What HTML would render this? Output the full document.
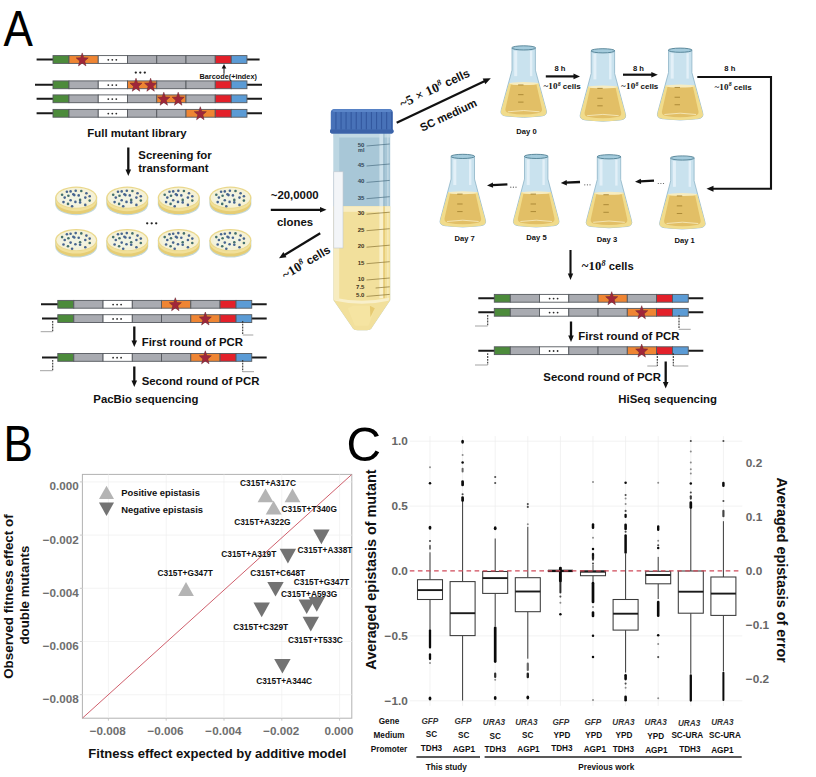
<!DOCTYPE html>
<html><head><meta charset="utf-8"><title>Figure</title>
<style>
html,body{margin:0;padding:0;background:#fff;}
body{width:816px;height:777px;overflow:hidden;font-family:"Liberation Sans",sans-serif;}
svg{display:block}
svg text{font-family:"Liberation Sans",sans-serif;}
</style></head>
<body>
<svg width="816" height="777" viewBox="0 0 816 777">
<rect width="816" height="777" fill="#ffffff"/>
<text transform="translate(3.6 46.3) scale(0.882 1)" font-size="50" fill="#000">A</text>
<line x1="36.6" y1="59.5" x2="259.6" y2="59.5" stroke="#1a1a1a" stroke-width="2.0"/>
<rect x="53.00" y="55.60" width="16.00" height="7.8" fill="#4c8b3b" stroke="#55595e" stroke-width="0.9"/>
<rect x="69.00" y="55.60" width="29.25" height="7.8" fill="#ef8533" stroke="#55595e" stroke-width="0.9"/>
<rect x="98.25" y="55.60" width="29.25" height="7.8" fill="#ffffff" stroke="#55595e" stroke-width="0.9"/>
<circle cx="108.3" cy="59.8" r="0.9" fill="#2a2a2a"/>
<circle cx="112.3" cy="59.8" r="0.9" fill="#2a2a2a"/>
<circle cx="116.3" cy="59.8" r="0.9" fill="#2a2a2a"/>
<rect x="127.50" y="55.60" width="29.25" height="7.8" fill="#a9abb1" stroke="#55595e" stroke-width="0.9"/>
<rect x="156.75" y="55.60" width="29.25" height="7.8" fill="#a9abb1" stroke="#55595e" stroke-width="0.9"/>
<rect x="186.00" y="55.60" width="29.25" height="7.8" fill="#a9abb1" stroke="#55595e" stroke-width="0.9"/>
<rect x="215.25" y="55.60" width="16.00" height="7.8" fill="#e3202a" stroke="#55595e" stroke-width="0.9"/>
<rect x="231.25" y="55.60" width="15.70" height="7.8" fill="#5b9bd5" stroke="#55595e" stroke-width="0.9"/>
<polygon points="82.20,52.90 83.76,57.65 88.23,57.88 84.73,61.03 85.92,65.92 82.20,63.12 78.48,65.92 79.67,61.03 76.17,57.88 80.64,57.65" fill="#a0263a" stroke="#6d2a30" stroke-width="0.5"/>
<line x1="35.0" y1="84.8" x2="262.0" y2="84.8" stroke="#1a1a1a" stroke-width="2.0"/>
<rect x="53.00" y="80.90" width="16.00" height="7.8" fill="#4c8b3b" stroke="#55595e" stroke-width="0.9"/>
<rect x="69.00" y="80.90" width="29.25" height="7.8" fill="#a9abb1" stroke="#55595e" stroke-width="0.9"/>
<rect x="98.25" y="80.90" width="29.25" height="7.8" fill="#ffffff" stroke="#55595e" stroke-width="0.9"/>
<circle cx="108.3" cy="85.1" r="0.9" fill="#2a2a2a"/>
<circle cx="112.3" cy="85.1" r="0.9" fill="#2a2a2a"/>
<circle cx="116.3" cy="85.1" r="0.9" fill="#2a2a2a"/>
<rect x="127.50" y="80.90" width="29.25" height="7.8" fill="#ef8533" stroke="#55595e" stroke-width="0.9"/>
<rect x="156.75" y="80.90" width="29.25" height="7.8" fill="#a9abb1" stroke="#55595e" stroke-width="0.9"/>
<rect x="186.00" y="80.90" width="29.25" height="7.8" fill="#a9abb1" stroke="#55595e" stroke-width="0.9"/>
<rect x="215.25" y="80.90" width="16.00" height="7.8" fill="#e3202a" stroke="#55595e" stroke-width="0.9"/>
<rect x="231.25" y="80.90" width="15.70" height="7.8" fill="#5b9bd5" stroke="#55595e" stroke-width="0.9"/>
<polygon points="136.00,78.20 137.56,82.95 142.03,83.18 138.53,86.33 139.72,91.22 136.00,88.42 132.28,91.22 133.47,86.33 129.97,83.18 134.44,82.95" fill="#a0263a" stroke="#6d2a30" stroke-width="0.5"/>
<polygon points="150.60,78.20 152.16,82.95 156.63,83.18 153.13,86.33 154.32,91.22 150.60,88.42 146.88,91.22 148.07,86.33 144.57,83.18 149.04,82.95" fill="#a0263a" stroke="#6d2a30" stroke-width="0.5"/>
<line x1="36.6" y1="98.8" x2="262.0" y2="98.8" stroke="#1a1a1a" stroke-width="2.0"/>
<rect x="53.00" y="94.90" width="16.00" height="7.8" fill="#4c8b3b" stroke="#55595e" stroke-width="0.9"/>
<rect x="69.00" y="94.90" width="29.25" height="7.8" fill="#a9abb1" stroke="#55595e" stroke-width="0.9"/>
<rect x="98.25" y="94.90" width="29.25" height="7.8" fill="#ffffff" stroke="#55595e" stroke-width="0.9"/>
<circle cx="108.3" cy="99.1" r="0.9" fill="#2a2a2a"/>
<circle cx="112.3" cy="99.1" r="0.9" fill="#2a2a2a"/>
<circle cx="116.3" cy="99.1" r="0.9" fill="#2a2a2a"/>
<rect x="127.50" y="94.90" width="29.25" height="7.8" fill="#a9abb1" stroke="#55595e" stroke-width="0.9"/>
<rect x="156.75" y="94.90" width="29.25" height="7.8" fill="#ef8533" stroke="#55595e" stroke-width="0.9"/>
<rect x="186.00" y="94.90" width="29.25" height="7.8" fill="#a9abb1" stroke="#55595e" stroke-width="0.9"/>
<rect x="215.25" y="94.90" width="16.00" height="7.8" fill="#e3202a" stroke="#55595e" stroke-width="0.9"/>
<rect x="231.25" y="94.90" width="15.70" height="7.8" fill="#5b9bd5" stroke="#55595e" stroke-width="0.9"/>
<polygon points="163.80,92.20 165.36,96.95 169.83,97.18 166.33,100.33 167.52,105.22 163.80,102.42 160.08,105.22 161.27,100.33 157.77,97.18 162.24,96.95" fill="#a0263a" stroke="#6d2a30" stroke-width="0.5"/>
<polygon points="178.20,92.20 179.76,96.95 184.23,97.18 180.73,100.33 181.92,105.22 178.20,102.42 174.48,105.22 175.67,100.33 172.17,97.18 176.64,96.95" fill="#a0263a" stroke="#6d2a30" stroke-width="0.5"/>
<line x1="36.6" y1="113.3" x2="262.0" y2="113.3" stroke="#1a1a1a" stroke-width="2.0"/>
<rect x="53.00" y="109.40" width="16.00" height="7.8" fill="#4c8b3b" stroke="#55595e" stroke-width="0.9"/>
<rect x="69.00" y="109.40" width="29.25" height="7.8" fill="#a9abb1" stroke="#55595e" stroke-width="0.9"/>
<rect x="98.25" y="109.40" width="29.25" height="7.8" fill="#ffffff" stroke="#55595e" stroke-width="0.9"/>
<circle cx="108.3" cy="113.6" r="0.9" fill="#2a2a2a"/>
<circle cx="112.3" cy="113.6" r="0.9" fill="#2a2a2a"/>
<circle cx="116.3" cy="113.6" r="0.9" fill="#2a2a2a"/>
<rect x="127.50" y="109.40" width="29.25" height="7.8" fill="#a9abb1" stroke="#55595e" stroke-width="0.9"/>
<rect x="156.75" y="109.40" width="29.25" height="7.8" fill="#a9abb1" stroke="#55595e" stroke-width="0.9"/>
<rect x="186.00" y="109.40" width="29.25" height="7.8" fill="#ef8533" stroke="#55595e" stroke-width="0.9"/>
<rect x="215.25" y="109.40" width="16.00" height="7.8" fill="#e3202a" stroke="#55595e" stroke-width="0.9"/>
<rect x="231.25" y="109.40" width="15.70" height="7.8" fill="#5b9bd5" stroke="#55595e" stroke-width="0.9"/>
<polygon points="200.30,106.70 201.86,111.45 206.33,111.68 202.83,114.83 204.02,119.72 200.30,116.92 196.58,119.72 197.77,114.83 194.27,111.68 198.74,111.45" fill="#a0263a" stroke="#6d2a30" stroke-width="0.5"/>
<circle cx="135.8" cy="72.6" r="1.15" fill="#222"/>
<circle cx="140.3" cy="72.6" r="1.15" fill="#222"/>
<circle cx="144.8" cy="72.6" r="1.15" fill="#222"/>
<text x="199.5" y="79.4" font-size="7.3" font-weight="bold" text-anchor="start" fill="#111"  >Barcode(+index)</text>
<line x1="224.0" y1="73.8" x2="224.0" y2="67.6" stroke="#111" stroke-width="1.0"/>
<polygon points="224.0,64.0 226.3,68.6 221.7,68.6" fill="#111"/>
<text x="87.3" y="137.3" font-size="11.4" font-weight="bold" text-anchor="start" fill="#111"  >Full mutant library</text>
<line x1="128.3" y1="147.5" x2="128.3" y2="170.5" stroke="#111" stroke-width="2.3"/>
<polygon points="128.3,176.0 125.5,169.5 131.1,169.5" fill="#111"/>
<text x="138.3" y="159.1" font-size="11.4" font-weight="bold" text-anchor="start" fill="#111"  >Screening for</text>
<text x="138.3" y="172.1" font-size="11.4" font-weight="bold" text-anchor="start" fill="#111"  >transformant</text>
<path d="M55.2,197.6 L55.2,204.2 A21,11 0 0 0 97.2,204.2 L97.2,197.6 Z" fill="#c3d9dc"/>
<path d="M55.6,197.6 L55.6,203.1 A20.6,11 0 0 0 96.8,203.1 L96.8,197.6 Z" fill="#e6cd74"/>
<path d="M55.6,197.6 L55.6,200.2 A20.6,11 0 0 0 96.8,200.2 L96.8,197.6 Z" fill="#f1e09a"/>
<ellipse cx="76.2" cy="197.6" rx="21" ry="11" fill="#ead88c"/>
<ellipse cx="76.2" cy="197.79999999999998" rx="19.7" ry="10.0" fill="#f5f1d6"/>
<ellipse cx="73.2" cy="198.6" rx="14" ry="7" fill="#f1f4e4" opacity="0.8"/>
<circle cx="62.1" cy="194.7" r="1.3" fill="#44706e"/>
<circle cx="66.9" cy="191.8" r="1.3" fill="#47658f"/>
<circle cx="70.6" cy="191.4" r="1.3" fill="#47658f"/>
<circle cx="75.7" cy="190.7" r="1.3" fill="#47658f"/>
<circle cx="81.3" cy="191.0" r="1.3" fill="#44706e"/>
<circle cx="86.4" cy="193.2" r="1.3" fill="#47658f"/>
<circle cx="89.7" cy="196.2" r="1.3" fill="#47658f"/>
<circle cx="85.3" cy="197.6" r="1.3" fill="#47658f"/>
<circle cx="89.7" cy="200.6" r="1.3" fill="#44706e"/>
<circle cx="78.7" cy="195.4" r="1.3" fill="#47658f"/>
<circle cx="74.3" cy="195.1" r="1.3" fill="#47658f"/>
<circle cx="73.3" cy="194.3" r="1.3" fill="#47658f"/>
<circle cx="68.4" cy="195.8" r="1.3" fill="#44706e"/>
<circle cx="64.7" cy="197.6" r="1.3" fill="#47658f"/>
<circle cx="70.6" cy="200.2" r="1.3" fill="#47658f"/>
<circle cx="75.4" cy="201.9" r="1.3" fill="#47658f"/>
<circle cx="80.1" cy="199.9" r="1.3" fill="#44706e"/>
<circle cx="80.1" cy="202.4" r="1.3" fill="#47658f"/>
<circle cx="85.3" cy="204.9" r="1.3" fill="#47658f"/>
<circle cx="63.5" cy="202.1" r="1.3" fill="#47658f"/>
<circle cx="68.0" cy="203.9" r="1.3" fill="#44706e"/>
<circle cx="72.1" cy="206.3" r="1.3" fill="#47658f"/>
<path d="M106.3,197.6 L106.3,204.2 A21,11 0 0 0 148.3,204.2 L148.3,197.6 Z" fill="#c3d9dc"/>
<path d="M106.7,197.6 L106.7,203.1 A20.6,11 0 0 0 147.9,203.1 L147.9,197.6 Z" fill="#e6cd74"/>
<path d="M106.7,197.6 L106.7,200.2 A20.6,11 0 0 0 147.9,200.2 L147.9,197.6 Z" fill="#f1e09a"/>
<ellipse cx="127.3" cy="197.6" rx="21" ry="11" fill="#ead88c"/>
<ellipse cx="127.3" cy="197.79999999999998" rx="19.7" ry="10.0" fill="#f5f1d6"/>
<ellipse cx="124.3" cy="198.6" rx="14" ry="7" fill="#f1f4e4" opacity="0.8"/>
<circle cx="113.2" cy="194.7" r="1.3" fill="#44706e"/>
<circle cx="118.0" cy="191.8" r="1.3" fill="#47658f"/>
<circle cx="121.7" cy="191.4" r="1.3" fill="#47658f"/>
<circle cx="126.8" cy="190.7" r="1.3" fill="#47658f"/>
<circle cx="132.4" cy="191.0" r="1.3" fill="#44706e"/>
<circle cx="137.5" cy="193.2" r="1.3" fill="#47658f"/>
<circle cx="140.8" cy="196.2" r="1.3" fill="#47658f"/>
<circle cx="136.4" cy="197.6" r="1.3" fill="#47658f"/>
<circle cx="140.8" cy="200.6" r="1.3" fill="#44706e"/>
<circle cx="129.8" cy="195.4" r="1.3" fill="#47658f"/>
<circle cx="125.4" cy="195.1" r="1.3" fill="#47658f"/>
<circle cx="124.4" cy="194.3" r="1.3" fill="#47658f"/>
<circle cx="119.5" cy="195.8" r="1.3" fill="#44706e"/>
<circle cx="115.8" cy="197.6" r="1.3" fill="#47658f"/>
<circle cx="121.7" cy="200.2" r="1.3" fill="#47658f"/>
<circle cx="126.5" cy="201.9" r="1.3" fill="#47658f"/>
<circle cx="131.2" cy="199.9" r="1.3" fill="#44706e"/>
<circle cx="131.2" cy="202.4" r="1.3" fill="#47658f"/>
<circle cx="136.4" cy="204.9" r="1.3" fill="#47658f"/>
<circle cx="114.6" cy="202.1" r="1.3" fill="#47658f"/>
<circle cx="119.1" cy="203.9" r="1.3" fill="#44706e"/>
<circle cx="123.2" cy="206.3" r="1.3" fill="#47658f"/>
<path d="M157.8,197.6 L157.8,204.2 A21,11 0 0 0 199.8,204.2 L199.8,197.6 Z" fill="#c3d9dc"/>
<path d="M158.20000000000002,197.6 L158.20000000000002,203.1 A20.6,11 0 0 0 199.4,203.1 L199.4,197.6 Z" fill="#e6cd74"/>
<path d="M158.20000000000002,197.6 L158.20000000000002,200.2 A20.6,11 0 0 0 199.4,200.2 L199.4,197.6 Z" fill="#f1e09a"/>
<ellipse cx="178.8" cy="197.6" rx="21" ry="11" fill="#ead88c"/>
<ellipse cx="178.8" cy="197.79999999999998" rx="19.7" ry="10.0" fill="#f5f1d6"/>
<ellipse cx="175.8" cy="198.6" rx="14" ry="7" fill="#f1f4e4" opacity="0.8"/>
<circle cx="164.7" cy="194.7" r="1.3" fill="#44706e"/>
<circle cx="169.5" cy="191.8" r="1.3" fill="#47658f"/>
<circle cx="173.2" cy="191.4" r="1.3" fill="#47658f"/>
<circle cx="178.3" cy="190.7" r="1.3" fill="#47658f"/>
<circle cx="183.9" cy="191.0" r="1.3" fill="#44706e"/>
<circle cx="189.0" cy="193.2" r="1.3" fill="#47658f"/>
<circle cx="192.3" cy="196.2" r="1.3" fill="#47658f"/>
<circle cx="187.9" cy="197.6" r="1.3" fill="#47658f"/>
<circle cx="192.3" cy="200.6" r="1.3" fill="#44706e"/>
<circle cx="181.3" cy="195.4" r="1.3" fill="#47658f"/>
<circle cx="176.9" cy="195.1" r="1.3" fill="#47658f"/>
<circle cx="175.9" cy="194.3" r="1.3" fill="#47658f"/>
<circle cx="171.0" cy="195.8" r="1.3" fill="#44706e"/>
<circle cx="167.3" cy="197.6" r="1.3" fill="#47658f"/>
<circle cx="173.2" cy="200.2" r="1.3" fill="#47658f"/>
<circle cx="178.0" cy="201.9" r="1.3" fill="#47658f"/>
<circle cx="182.7" cy="199.9" r="1.3" fill="#44706e"/>
<circle cx="182.7" cy="202.4" r="1.3" fill="#47658f"/>
<circle cx="187.9" cy="204.9" r="1.3" fill="#47658f"/>
<circle cx="166.1" cy="202.1" r="1.3" fill="#47658f"/>
<circle cx="170.6" cy="203.9" r="1.3" fill="#44706e"/>
<circle cx="174.7" cy="206.3" r="1.3" fill="#47658f"/>
<path d="M209.4,197.6 L209.4,204.2 A21,11 0 0 0 251.4,204.2 L251.4,197.6 Z" fill="#c3d9dc"/>
<path d="M209.8,197.6 L209.8,203.1 A20.6,11 0 0 0 251.0,203.1 L251.0,197.6 Z" fill="#e6cd74"/>
<path d="M209.8,197.6 L209.8,200.2 A20.6,11 0 0 0 251.0,200.2 L251.0,197.6 Z" fill="#f1e09a"/>
<ellipse cx="230.4" cy="197.6" rx="21" ry="11" fill="#ead88c"/>
<ellipse cx="230.4" cy="197.79999999999998" rx="19.7" ry="10.0" fill="#f5f1d6"/>
<ellipse cx="227.4" cy="198.6" rx="14" ry="7" fill="#f1f4e4" opacity="0.8"/>
<circle cx="216.3" cy="194.7" r="1.3" fill="#44706e"/>
<circle cx="221.1" cy="191.8" r="1.3" fill="#47658f"/>
<circle cx="224.8" cy="191.4" r="1.3" fill="#47658f"/>
<circle cx="229.9" cy="190.7" r="1.3" fill="#47658f"/>
<circle cx="235.5" cy="191.0" r="1.3" fill="#44706e"/>
<circle cx="240.6" cy="193.2" r="1.3" fill="#47658f"/>
<circle cx="243.9" cy="196.2" r="1.3" fill="#47658f"/>
<circle cx="239.5" cy="197.6" r="1.3" fill="#47658f"/>
<circle cx="243.9" cy="200.6" r="1.3" fill="#44706e"/>
<circle cx="232.9" cy="195.4" r="1.3" fill="#47658f"/>
<circle cx="228.5" cy="195.1" r="1.3" fill="#47658f"/>
<circle cx="227.5" cy="194.3" r="1.3" fill="#47658f"/>
<circle cx="222.6" cy="195.8" r="1.3" fill="#44706e"/>
<circle cx="218.9" cy="197.6" r="1.3" fill="#47658f"/>
<circle cx="224.8" cy="200.2" r="1.3" fill="#47658f"/>
<circle cx="229.6" cy="201.9" r="1.3" fill="#47658f"/>
<circle cx="234.3" cy="199.9" r="1.3" fill="#44706e"/>
<circle cx="234.3" cy="202.4" r="1.3" fill="#47658f"/>
<circle cx="239.5" cy="204.9" r="1.3" fill="#47658f"/>
<circle cx="217.7" cy="202.1" r="1.3" fill="#47658f"/>
<circle cx="222.2" cy="203.9" r="1.3" fill="#44706e"/>
<circle cx="226.3" cy="206.3" r="1.3" fill="#47658f"/>
<path d="M55.2,240.0 L55.2,246.6 A21,11 0 0 0 97.2,246.6 L97.2,240.0 Z" fill="#c3d9dc"/>
<path d="M55.6,240.0 L55.6,245.5 A20.6,11 0 0 0 96.8,245.5 L96.8,240.0 Z" fill="#e6cd74"/>
<path d="M55.6,240.0 L55.6,242.6 A20.6,11 0 0 0 96.8,242.6 L96.8,240.0 Z" fill="#f1e09a"/>
<ellipse cx="76.2" cy="240.0" rx="21" ry="11" fill="#ead88c"/>
<ellipse cx="76.2" cy="240.2" rx="19.7" ry="10.0" fill="#f5f1d6"/>
<ellipse cx="73.2" cy="241.0" rx="14" ry="7" fill="#f1f4e4" opacity="0.8"/>
<circle cx="62.1" cy="237.1" r="1.3" fill="#44706e"/>
<circle cx="66.9" cy="234.2" r="1.3" fill="#47658f"/>
<circle cx="70.6" cy="233.8" r="1.3" fill="#47658f"/>
<circle cx="75.7" cy="233.1" r="1.3" fill="#47658f"/>
<circle cx="81.3" cy="233.4" r="1.3" fill="#44706e"/>
<circle cx="86.4" cy="235.6" r="1.3" fill="#47658f"/>
<circle cx="89.7" cy="238.6" r="1.3" fill="#47658f"/>
<circle cx="85.3" cy="240.0" r="1.3" fill="#47658f"/>
<circle cx="89.7" cy="243.0" r="1.3" fill="#44706e"/>
<circle cx="78.7" cy="237.8" r="1.3" fill="#47658f"/>
<circle cx="74.3" cy="237.5" r="1.3" fill="#47658f"/>
<circle cx="73.3" cy="236.7" r="1.3" fill="#47658f"/>
<circle cx="68.4" cy="238.2" r="1.3" fill="#44706e"/>
<circle cx="64.7" cy="240.0" r="1.3" fill="#47658f"/>
<circle cx="70.6" cy="242.6" r="1.3" fill="#47658f"/>
<circle cx="75.4" cy="244.3" r="1.3" fill="#47658f"/>
<circle cx="80.1" cy="242.3" r="1.3" fill="#44706e"/>
<circle cx="80.1" cy="244.8" r="1.3" fill="#47658f"/>
<circle cx="85.3" cy="247.3" r="1.3" fill="#47658f"/>
<circle cx="63.5" cy="244.5" r="1.3" fill="#47658f"/>
<circle cx="68.0" cy="246.3" r="1.3" fill="#44706e"/>
<circle cx="72.1" cy="248.7" r="1.3" fill="#47658f"/>
<path d="M106.3,240.0 L106.3,246.6 A21,11 0 0 0 148.3,246.6 L148.3,240.0 Z" fill="#c3d9dc"/>
<path d="M106.7,240.0 L106.7,245.5 A20.6,11 0 0 0 147.9,245.5 L147.9,240.0 Z" fill="#e6cd74"/>
<path d="M106.7,240.0 L106.7,242.6 A20.6,11 0 0 0 147.9,242.6 L147.9,240.0 Z" fill="#f1e09a"/>
<ellipse cx="127.3" cy="240.0" rx="21" ry="11" fill="#ead88c"/>
<ellipse cx="127.3" cy="240.2" rx="19.7" ry="10.0" fill="#f5f1d6"/>
<ellipse cx="124.3" cy="241.0" rx="14" ry="7" fill="#f1f4e4" opacity="0.8"/>
<circle cx="113.2" cy="237.1" r="1.3" fill="#44706e"/>
<circle cx="118.0" cy="234.2" r="1.3" fill="#47658f"/>
<circle cx="121.7" cy="233.8" r="1.3" fill="#47658f"/>
<circle cx="126.8" cy="233.1" r="1.3" fill="#47658f"/>
<circle cx="132.4" cy="233.4" r="1.3" fill="#44706e"/>
<circle cx="137.5" cy="235.6" r="1.3" fill="#47658f"/>
<circle cx="140.8" cy="238.6" r="1.3" fill="#47658f"/>
<circle cx="136.4" cy="240.0" r="1.3" fill="#47658f"/>
<circle cx="140.8" cy="243.0" r="1.3" fill="#44706e"/>
<circle cx="129.8" cy="237.8" r="1.3" fill="#47658f"/>
<circle cx="125.4" cy="237.5" r="1.3" fill="#47658f"/>
<circle cx="124.4" cy="236.7" r="1.3" fill="#47658f"/>
<circle cx="119.5" cy="238.2" r="1.3" fill="#44706e"/>
<circle cx="115.8" cy="240.0" r="1.3" fill="#47658f"/>
<circle cx="121.7" cy="242.6" r="1.3" fill="#47658f"/>
<circle cx="126.5" cy="244.3" r="1.3" fill="#47658f"/>
<circle cx="131.2" cy="242.3" r="1.3" fill="#44706e"/>
<circle cx="131.2" cy="244.8" r="1.3" fill="#47658f"/>
<circle cx="136.4" cy="247.3" r="1.3" fill="#47658f"/>
<circle cx="114.6" cy="244.5" r="1.3" fill="#47658f"/>
<circle cx="119.1" cy="246.3" r="1.3" fill="#44706e"/>
<circle cx="123.2" cy="248.7" r="1.3" fill="#47658f"/>
<path d="M157.8,240.0 L157.8,246.6 A21,11 0 0 0 199.8,246.6 L199.8,240.0 Z" fill="#c3d9dc"/>
<path d="M158.20000000000002,240.0 L158.20000000000002,245.5 A20.6,11 0 0 0 199.4,245.5 L199.4,240.0 Z" fill="#e6cd74"/>
<path d="M158.20000000000002,240.0 L158.20000000000002,242.6 A20.6,11 0 0 0 199.4,242.6 L199.4,240.0 Z" fill="#f1e09a"/>
<ellipse cx="178.8" cy="240.0" rx="21" ry="11" fill="#ead88c"/>
<ellipse cx="178.8" cy="240.2" rx="19.7" ry="10.0" fill="#f5f1d6"/>
<ellipse cx="175.8" cy="241.0" rx="14" ry="7" fill="#f1f4e4" opacity="0.8"/>
<circle cx="164.7" cy="237.1" r="1.3" fill="#44706e"/>
<circle cx="169.5" cy="234.2" r="1.3" fill="#47658f"/>
<circle cx="173.2" cy="233.8" r="1.3" fill="#47658f"/>
<circle cx="178.3" cy="233.1" r="1.3" fill="#47658f"/>
<circle cx="183.9" cy="233.4" r="1.3" fill="#44706e"/>
<circle cx="189.0" cy="235.6" r="1.3" fill="#47658f"/>
<circle cx="192.3" cy="238.6" r="1.3" fill="#47658f"/>
<circle cx="187.9" cy="240.0" r="1.3" fill="#47658f"/>
<circle cx="192.3" cy="243.0" r="1.3" fill="#44706e"/>
<circle cx="181.3" cy="237.8" r="1.3" fill="#47658f"/>
<circle cx="176.9" cy="237.5" r="1.3" fill="#47658f"/>
<circle cx="175.9" cy="236.7" r="1.3" fill="#47658f"/>
<circle cx="171.0" cy="238.2" r="1.3" fill="#44706e"/>
<circle cx="167.3" cy="240.0" r="1.3" fill="#47658f"/>
<circle cx="173.2" cy="242.6" r="1.3" fill="#47658f"/>
<circle cx="178.0" cy="244.3" r="1.3" fill="#47658f"/>
<circle cx="182.7" cy="242.3" r="1.3" fill="#44706e"/>
<circle cx="182.7" cy="244.8" r="1.3" fill="#47658f"/>
<circle cx="187.9" cy="247.3" r="1.3" fill="#47658f"/>
<circle cx="166.1" cy="244.5" r="1.3" fill="#47658f"/>
<circle cx="170.6" cy="246.3" r="1.3" fill="#44706e"/>
<circle cx="174.7" cy="248.7" r="1.3" fill="#47658f"/>
<path d="M209.4,240.0 L209.4,246.6 A21,11 0 0 0 251.4,246.6 L251.4,240.0 Z" fill="#c3d9dc"/>
<path d="M209.8,240.0 L209.8,245.5 A20.6,11 0 0 0 251.0,245.5 L251.0,240.0 Z" fill="#e6cd74"/>
<path d="M209.8,240.0 L209.8,242.6 A20.6,11 0 0 0 251.0,242.6 L251.0,240.0 Z" fill="#f1e09a"/>
<ellipse cx="230.4" cy="240.0" rx="21" ry="11" fill="#ead88c"/>
<ellipse cx="230.4" cy="240.2" rx="19.7" ry="10.0" fill="#f5f1d6"/>
<ellipse cx="227.4" cy="241.0" rx="14" ry="7" fill="#f1f4e4" opacity="0.8"/>
<circle cx="216.3" cy="237.1" r="1.3" fill="#44706e"/>
<circle cx="221.1" cy="234.2" r="1.3" fill="#47658f"/>
<circle cx="224.8" cy="233.8" r="1.3" fill="#47658f"/>
<circle cx="229.9" cy="233.1" r="1.3" fill="#47658f"/>
<circle cx="235.5" cy="233.4" r="1.3" fill="#44706e"/>
<circle cx="240.6" cy="235.6" r="1.3" fill="#47658f"/>
<circle cx="243.9" cy="238.6" r="1.3" fill="#47658f"/>
<circle cx="239.5" cy="240.0" r="1.3" fill="#47658f"/>
<circle cx="243.9" cy="243.0" r="1.3" fill="#44706e"/>
<circle cx="232.9" cy="237.8" r="1.3" fill="#47658f"/>
<circle cx="228.5" cy="237.5" r="1.3" fill="#47658f"/>
<circle cx="227.5" cy="236.7" r="1.3" fill="#47658f"/>
<circle cx="222.6" cy="238.2" r="1.3" fill="#44706e"/>
<circle cx="218.9" cy="240.0" r="1.3" fill="#47658f"/>
<circle cx="224.8" cy="242.6" r="1.3" fill="#47658f"/>
<circle cx="229.6" cy="244.3" r="1.3" fill="#47658f"/>
<circle cx="234.3" cy="242.3" r="1.3" fill="#44706e"/>
<circle cx="234.3" cy="244.8" r="1.3" fill="#47658f"/>
<circle cx="239.5" cy="247.3" r="1.3" fill="#47658f"/>
<circle cx="217.7" cy="244.5" r="1.3" fill="#47658f"/>
<circle cx="222.2" cy="246.3" r="1.3" fill="#44706e"/>
<circle cx="226.3" cy="248.7" r="1.3" fill="#47658f"/>
<circle cx="147.2" cy="223.3" r="1.15" fill="#222"/>
<circle cx="151.7" cy="223.3" r="1.15" fill="#222"/>
<circle cx="156.2" cy="223.3" r="1.15" fill="#222"/>
<line x1="41.0" y1="304.3" x2="266.7" y2="304.3" stroke="#1a1a1a" stroke-width="2.0"/>
<rect x="57.80" y="300.40" width="16.00" height="7.8" fill="#4c8b3b" stroke="#55595e" stroke-width="0.9"/>
<rect x="73.80" y="300.40" width="29.25" height="7.8" fill="#a9abb1" stroke="#55595e" stroke-width="0.9"/>
<rect x="103.05" y="300.40" width="29.25" height="7.8" fill="#ffffff" stroke="#55595e" stroke-width="0.9"/>
<circle cx="113.1" cy="304.6" r="0.9" fill="#2a2a2a"/>
<circle cx="117.1" cy="304.6" r="0.9" fill="#2a2a2a"/>
<circle cx="121.1" cy="304.6" r="0.9" fill="#2a2a2a"/>
<rect x="132.30" y="300.40" width="29.25" height="7.8" fill="#a9abb1" stroke="#55595e" stroke-width="0.9"/>
<rect x="161.55" y="300.40" width="29.25" height="7.8" fill="#ef8533" stroke="#55595e" stroke-width="0.9"/>
<rect x="190.80" y="300.40" width="29.25" height="7.8" fill="#a9abb1" stroke="#55595e" stroke-width="0.9"/>
<rect x="220.05" y="300.40" width="16.00" height="7.8" fill="#e3202a" stroke="#55595e" stroke-width="0.9"/>
<rect x="236.05" y="300.40" width="15.70" height="7.8" fill="#5b9bd5" stroke="#55595e" stroke-width="0.9"/>
<polygon points="175.30,297.70 176.86,302.45 181.33,302.68 177.83,305.83 179.02,310.72 175.30,307.92 171.58,310.72 172.77,305.83 169.27,302.68 173.74,302.45" fill="#a0263a" stroke="#6d2a30" stroke-width="0.5"/>
<line x1="42.0" y1="318.6" x2="266.7" y2="318.6" stroke="#1a1a1a" stroke-width="2.0"/>
<rect x="57.80" y="314.70" width="16.00" height="7.8" fill="#4c8b3b" stroke="#55595e" stroke-width="0.9"/>
<rect x="73.80" y="314.70" width="29.25" height="7.8" fill="#a9abb1" stroke="#55595e" stroke-width="0.9"/>
<rect x="103.05" y="314.70" width="29.25" height="7.8" fill="#ffffff" stroke="#55595e" stroke-width="0.9"/>
<circle cx="113.1" cy="318.9" r="0.9" fill="#2a2a2a"/>
<circle cx="117.1" cy="318.9" r="0.9" fill="#2a2a2a"/>
<circle cx="121.1" cy="318.9" r="0.9" fill="#2a2a2a"/>
<rect x="132.30" y="314.70" width="29.25" height="7.8" fill="#a9abb1" stroke="#55595e" stroke-width="0.9"/>
<rect x="161.55" y="314.70" width="29.25" height="7.8" fill="#a9abb1" stroke="#55595e" stroke-width="0.9"/>
<rect x="190.80" y="314.70" width="29.25" height="7.8" fill="#ef8533" stroke="#55595e" stroke-width="0.9"/>
<rect x="220.05" y="314.70" width="16.00" height="7.8" fill="#e3202a" stroke="#55595e" stroke-width="0.9"/>
<rect x="236.05" y="314.70" width="15.70" height="7.8" fill="#5b9bd5" stroke="#55595e" stroke-width="0.9"/>
<polygon points="205.30,312.00 206.86,316.75 211.33,316.98 207.83,320.13 209.02,325.02 205.30,322.22 201.58,325.02 202.77,320.13 199.27,316.98 203.74,316.75" fill="#a0263a" stroke="#6d2a30" stroke-width="0.5"/>
<line x1="42.0" y1="357.4" x2="266.7" y2="357.4" stroke="#1a1a1a" stroke-width="2.0"/>
<rect x="57.80" y="353.50" width="16.00" height="7.8" fill="#4c8b3b" stroke="#55595e" stroke-width="0.9"/>
<rect x="73.80" y="353.50" width="29.25" height="7.8" fill="#a9abb1" stroke="#55595e" stroke-width="0.9"/>
<rect x="103.05" y="353.50" width="29.25" height="7.8" fill="#ffffff" stroke="#55595e" stroke-width="0.9"/>
<circle cx="113.1" cy="357.7" r="0.9" fill="#2a2a2a"/>
<circle cx="117.1" cy="357.7" r="0.9" fill="#2a2a2a"/>
<circle cx="121.1" cy="357.7" r="0.9" fill="#2a2a2a"/>
<rect x="132.30" y="353.50" width="29.25" height="7.8" fill="#a9abb1" stroke="#55595e" stroke-width="0.9"/>
<rect x="161.55" y="353.50" width="29.25" height="7.8" fill="#a9abb1" stroke="#55595e" stroke-width="0.9"/>
<rect x="190.80" y="353.50" width="29.25" height="7.8" fill="#ef8533" stroke="#55595e" stroke-width="0.9"/>
<rect x="220.05" y="353.50" width="16.00" height="7.8" fill="#e3202a" stroke="#55595e" stroke-width="0.9"/>
<rect x="236.05" y="353.50" width="15.70" height="7.8" fill="#5b9bd5" stroke="#55595e" stroke-width="0.9"/>
<polygon points="205.30,350.80 206.86,355.55 211.33,355.78 207.83,358.93 209.02,363.82 205.30,361.02 201.58,363.82 202.77,358.93 199.27,355.78 203.74,355.55" fill="#a0263a" stroke="#6d2a30" stroke-width="0.5"/>
<line x1="52.7" y1="321.0" x2="52.7" y2="331.7" stroke="#333" stroke-width="1.1" stroke-dasharray="1.8,1.0"/>
<line x1="52.7" y1="331.7" x2="40.7" y2="331.7" stroke="#999" stroke-width="0.9"/>
<line x1="242.7" y1="321.0" x2="242.7" y2="335.0" stroke="#333" stroke-width="1.1" stroke-dasharray="1.8,1.0"/>
<line x1="242.7" y1="335.0" x2="253.3" y2="335.0" stroke="#999" stroke-width="0.9"/>
<line x1="52.7" y1="360.0" x2="52.7" y2="370.7" stroke="#333" stroke-width="1.1" stroke-dasharray="1.8,1.0"/>
<line x1="52.7" y1="370.7" x2="40.0" y2="370.7" stroke="#999" stroke-width="0.9"/>
<line x1="242.7" y1="360.0" x2="242.7" y2="371.7" stroke="#333" stroke-width="1.1" stroke-dasharray="1.8,1.0"/>
<line x1="242.7" y1="371.7" x2="254.0" y2="371.7" stroke="#999" stroke-width="0.9"/>
<line x1="134.3" y1="326.5" x2="134.3" y2="341.5" stroke="#111" stroke-width="2.3"/>
<polygon points="134.3,347.0 131.5,340.5 137.1,340.5" fill="#111"/>
<text x="141.7" y="345.8" font-size="11.4" font-weight="bold" text-anchor="start" fill="#111"  >First round of PCR</text>
<line x1="134.3" y1="366.5" x2="134.3" y2="381.5" stroke="#111" stroke-width="2.3"/>
<polygon points="134.3,387.0 131.5,380.5 137.1,380.5" fill="#111"/>
<text x="141.7" y="385.1" font-size="11.4" font-weight="bold" text-anchor="start" fill="#111"  >Second round of PCR</text>
<text x="93.3" y="403.1" font-size="11.4" font-weight="bold" text-anchor="start" fill="#111"  >PacBio sequencing</text>
<path d="M333.6,133 L333.6,300.2 L352.0,327.1 Q353.5,330.3 357.5,330.3 L366.8,330.3 Q370.8,330.3 372.3,327.1 L390.2,300.2 L390.2,133 Z" fill="#a8c7d7"/>
<rect x="333.6" y="133" width="56.599999999999966" height="4.5" fill="#c2d9e4"/>
<path d="M333.6,206.3 L333.6,300.2 L352.0,327.1 Q353.5,330.3 357.5,330.3 L366.8,330.3 Q370.8,330.3 372.3,327.1 L390.2,300.2 L390.2,206.3 Z" fill="#f2e09c"/>
<rect x="333.6" y="206.3" width="56.599999999999966" height="5.5" fill="#f8edc2"/>
<path d="M335.1,300.7 Q361.9,306.7 388.7,300.7 L389.2,297.7 Q361.9,303.7 334.6,297.7 Z" fill="#f8efca"/>
<path d="M347.9,308.2 L352.9,305.7 L369.9,305.7 L374.9,308.2 L368.4,325.8 L354.9,325.8 Z" fill="#f5e4a2"/>
<path d="M369.9,305.7 L374.9,308.2 L370.4,317.2 Z" fill="#e6c970"/>
<rect x="333.6" y="133" width="5.6" height="73.30000000000001" fill="#bcd6e2"/>
<rect x="333.6" y="206.3" width="5.6" height="93.89999999999998" fill="#f7ecc0"/>
<rect x="379.4" y="133" width="3.9" height="73.30000000000001" fill="#cfe2ec"/>
<rect x="383.5" y="133" width="0.9" height="73.30000000000001" fill="#8fb2c4"/>
<rect x="387.4" y="133" width="1.0" height="73.30000000000001" fill="#cfe2ec"/>
<rect x="379.4" y="206.3" width="3.9" height="91.89999999999998" fill="#faf1cc"/>
<rect x="383.5" y="206.3" width="1.1" height="91.89999999999998" fill="#dfc064"/>
<rect x="387.4" y="206.3" width="1.0" height="91.89999999999998" fill="#f9efc6"/>
<rect x="333.8" y="171.8" width="9.2" height="76.2" fill="#f3f5f8" stroke="#c4c8cf" stroke-width="0.6"/>
<line x1="366.5" y1="146.0" x2="389.7" y2="144.0" stroke="#4a6e82" stroke-width="0.7"/>
<text x="364.4" y="146.9" font-size="6.0" font-weight="bold" text-anchor="end" fill="#2f4656"  >50</text>
<line x1="366.5" y1="166.0" x2="389.7" y2="164.0" stroke="#4a6e82" stroke-width="0.7"/>
<text x="364.4" y="166.9" font-size="6.0" font-weight="bold" text-anchor="end" fill="#2f4656"  >45</text>
<line x1="366.5" y1="182.39999999999998" x2="389.7" y2="180.39999999999998" stroke="#4a6e82" stroke-width="0.7"/>
<text x="364.4" y="183.3" font-size="6.0" font-weight="bold" text-anchor="end" fill="#2f4656"  >40</text>
<line x1="366.5" y1="198.7" x2="389.7" y2="196.7" stroke="#4a6e82" stroke-width="0.7"/>
<text x="364.4" y="199.6" font-size="6.0" font-weight="bold" text-anchor="end" fill="#2f4656"  >35</text>
<line x1="366.5" y1="214.2" x2="389.7" y2="212.2" stroke="#8a7434" stroke-width="0.7"/>
<text x="364.4" y="215.1" font-size="6.0" font-weight="bold" text-anchor="end" fill="#3d331c"  >30</text>
<line x1="366.5" y1="230.7" x2="389.7" y2="228.7" stroke="#8a7434" stroke-width="0.7"/>
<text x="364.4" y="231.6" font-size="6.0" font-weight="bold" text-anchor="end" fill="#3d331c"  >25</text>
<line x1="366.5" y1="247.2" x2="389.7" y2="245.2" stroke="#8a7434" stroke-width="0.7"/>
<text x="364.4" y="248.1" font-size="6.0" font-weight="bold" text-anchor="end" fill="#3d331c"  >20</text>
<line x1="366.5" y1="263.7" x2="389.7" y2="261.7" stroke="#8a7434" stroke-width="0.7"/>
<text x="364.4" y="264.6" font-size="6.0" font-weight="bold" text-anchor="end" fill="#3d331c"  >15</text>
<line x1="366.5" y1="280.0" x2="389.7" y2="278.0" stroke="#8a7434" stroke-width="0.7"/>
<text x="364.4" y="280.9" font-size="6.0" font-weight="bold" text-anchor="end" fill="#3d331c"  >10</text>
<line x1="375.6" y1="288.0" x2="389.7" y2="286.8" stroke="#8a7434" stroke-width="0.7"/>
<text x="364.4" y="288.9" font-size="6.0" font-weight="bold" text-anchor="end" fill="#3d331c"  >7.5</text>
<line x1="366.5" y1="296.4" x2="389.7" y2="294.4" stroke="#8a7434" stroke-width="0.7"/>
<text x="364.4" y="297.3" font-size="6.0" font-weight="bold" text-anchor="end" fill="#3d331c"  >5.0</text>
<text x="364.4" y="151.6" font-size="5.4" font-weight="bold" text-anchor="end" fill="#2f4656"  >ml</text>
<path d="M330.8,112.5 Q330.8,109 334.8,109 L388.8,109 Q392.8,109 392.8,112.5 L392.8,129 L393.6,131 Q393.6,133.6 390.5,133.6 L333.1,133.6 Q330,133.6 330,131 L330.8,129 Z" fill="#4872b8"/>
<rect x="332.5" y="109.3" width="58.6" height="2.6" rx="1.3" fill="#5b86c9"/>
<rect x="335.4" y="112" width="1.1" height="17.5" fill="#33589f"/>
<rect x="340.5" y="112" width="1.1" height="17.5" fill="#33589f"/>
<rect x="345.5" y="112" width="1.1" height="17.5" fill="#33589f"/>
<rect x="350.6" y="112" width="1.1" height="17.5" fill="#33589f"/>
<rect x="355.7" y="112" width="1.1" height="17.5" fill="#33589f"/>
<rect x="360.8" y="112" width="1.1" height="17.5" fill="#33589f"/>
<rect x="365.8" y="112" width="1.1" height="17.5" fill="#33589f"/>
<rect x="370.9" y="112" width="1.1" height="17.5" fill="#33589f"/>
<rect x="376.0" y="112" width="1.1" height="17.5" fill="#33589f"/>
<rect x="381.0" y="112" width="1.1" height="17.5" fill="#33589f"/>
<rect x="386.1" y="112" width="1.1" height="17.5" fill="#33589f"/>
<rect x="391.2" y="112" width="1.1" height="17.5" fill="#33589f"/>
<path d="M330.6,129.6 L393,129.6 L393.6,131 Q393.6,133.6 390.5,133.6 L333.1,133.6 Q330,133.6 330,131 Z" fill="#3b62a8"/>
<text x="270.8" y="199.1" font-size="11.4" font-weight="bold" text-anchor="start" fill="#111"  >~20,0000</text>
<line x1="270.8" y1="209.8" x2="321.0" y2="209.8" stroke="#111" stroke-width="2.2"/>
<polygon points="326.5,209.8 320.0,212.6 320.0,207.0" fill="#111"/>
<text x="277.0" y="225.6" font-size="11.4" font-weight="bold" text-anchor="start" fill="#111"  >clones</text>
<line x1="320.2" y1="233.3" x2="284.1" y2="255.2" stroke="#111" stroke-width="2.3"/>
<polygon points="279.0,258.3 283.4,252.1 286.5,257.2" fill="#111"/>
<text x="306.0" y="266.4" font-size="11.6" font-weight="bold" text-anchor="middle" fill="#111" transform="rotate(-31 306.0 262.2)" ><tspan font-family="Liberation Serif, serif" font-weight="bold" font-size="13.1" letter-spacing="0.2">~10</tspan><tspan font-family="Liberation Serif, serif" font-style="italic" font-weight="bold" font-size="8.4" dy="-4.6">8</tspan><tspan dy="4.6"> cells</tspan></text>
<line x1="396.7" y1="122.7" x2="484.9" y2="81.0" stroke="#111" stroke-width="2.3"/>
<polygon points="490.8,78.2 485.3,84.2 482.7,78.6" fill="#111"/>
<text x="434.6" y="92.5" font-size="11.7" font-weight="bold" text-anchor="middle" fill="#111" transform="rotate(-25.3 434.6 88.3)" ><tspan font-family="Liberation Serif, serif" font-weight="bold" font-size="13.2" letter-spacing="0.2">~5 × 10</tspan><tspan font-family="Liberation Serif, serif" font-style="italic" font-weight="bold" font-size="8.4" dy="-4.7">8</tspan><tspan dy="4.7"> cells</tspan></text>
<text x="448.3" y="119.0" font-size="11.2" font-weight="bold" text-anchor="middle" fill="#111" transform="rotate(-25.3 448.3 115)" >SC medium</text>
<path d="M512.0,47.900000000000006 L512.0,70.175 L501.40000000000003,109.39999999999999 Q499.40000000000003,115.39999999999999 505.90000000000003,115.99999999999999 Q523.7,118.6 541.5,115.99999999999999 Q548.0,115.39999999999999 546.0,109.39999999999999 L535.4000000000001,70.175 L535.4000000000001,47.900000000000006 Z" fill="#c9e2ee" stroke="#8db4c6" stroke-width="0.8"/>
<path d="M509.0609695463021,83.0 L501.40000000000003,109.39999999999999 Q499.40000000000003,115.39999999999999 505.90000000000003,115.99999999999999 Q523.7,118.6 541.5,115.99999999999999 Q548.0,115.39999999999999 546.0,109.39999999999999 L538.339030453698,83.0 Z" fill="#f1dc8c"/>
<path d="M510.96096954630207,84.5 L505.40000000000003,108.89999999999999 Q504.90000000000003,112.89999999999999 509.90000000000003,113.19999999999999 Q523.7,115.69999999999999 537.5,113.19999999999999 Q542.5,112.89999999999999 542.0,108.89999999999999 L536.439030453698,84.5 Z" fill="#e2bf66"/>
<path d="M507.90000000000003,111.8 Q523.7,109.19999999999999 539.5,111.8" fill="none" stroke="#f6ecc4" stroke-width="0.9" opacity="0.9"/>
<ellipse cx="523.7" cy="83.6" rx="14.43903045369795" ry="1.5" fill="#f7ecc0"/>
<rect x="514.2" y="50.900000000000006" width="3" height="25.27499999999999" fill="#e6f2f8" opacity="0.9"/>
<rect x="529.9000000000001" y="50.900000000000006" width="2.4" height="25.27499999999999" fill="#e6f2f8" opacity="0.9"/>
<ellipse cx="523.7" cy="47.900000000000006" rx="11.899999999999999" ry="2.1" fill="#a4cbdc" stroke="#4f7f93" stroke-width="0.9"/>
<line x1="518.1" y1="84.944" x2="523.5" y2="84.944" stroke="#a07d2c" stroke-width="0.8"/>
<line x1="518.1" y1="94.664" x2="523.5" y2="94.664" stroke="#a07d2c" stroke-width="0.8"/>
<line x1="518.1" y1="102.11599999999999" x2="523.5" y2="102.11599999999999" stroke="#a07d2c" stroke-width="0.8"/>
<path d="M591.1999999999999,50.800000000000004 L591.1999999999999,73.405 L580.6,113.3 Q578.6,119.3 585.1,119.89999999999999 Q602.9,122.5 620.6999999999999,119.89999999999999 Q627.1999999999999,119.3 625.1999999999999,113.3 L614.6,73.405 L614.6,50.800000000000004 Z" fill="#c9e2ee" stroke="#8db4c6" stroke-width="0.8"/>
<path d="M588.2673798752904,86.42000000000002 L580.6,113.3 Q578.6,119.3 585.1,119.89999999999999 Q602.9,122.5 620.6999999999999,119.89999999999999 Q627.1999999999999,119.3 625.1999999999999,113.3 L617.5326201247095,86.42000000000002 Z" fill="#f1dc8c"/>
<path d="M590.1673798752904,87.92000000000002 L584.6,112.8 Q584.1,116.8 589.1,117.1 Q602.9,119.6 616.6999999999999,117.1 Q621.6999999999999,116.8 621.1999999999999,112.8 L615.6326201247095,87.92000000000002 Z" fill="#e2bf66"/>
<path d="M587.1,115.7 Q602.9,113.1 618.6999999999999,115.7" fill="none" stroke="#f6ecc4" stroke-width="0.9" opacity="0.9"/>
<ellipse cx="602.9" cy="87.02000000000001" rx="14.432620124709626" ry="1.5" fill="#f7ecc0"/>
<rect x="593.4" y="53.800000000000004" width="3" height="25.604999999999997" fill="#e6f2f8" opacity="0.9"/>
<rect x="609.1" y="53.800000000000004" width="2.4" height="25.604999999999997" fill="#e6f2f8" opacity="0.9"/>
<ellipse cx="602.9" cy="50.800000000000004" rx="11.899999999999999" ry="2.1" fill="#a4cbdc" stroke="#4f7f93" stroke-width="0.9"/>
<line x1="597.3" y1="88.39280000000001" x2="602.6999999999999" y2="88.39280000000001" stroke="#a07d2c" stroke-width="0.8"/>
<line x1="597.3" y1="98.25680000000001" x2="602.6999999999999" y2="98.25680000000001" stroke="#a07d2c" stroke-width="0.8"/>
<line x1="597.3" y1="105.8192" x2="602.6999999999999" y2="105.8192" stroke="#a07d2c" stroke-width="0.8"/>
<path d="M668.5,50.2 L668.5,72.607 L657.9000000000001,112.1 Q655.9000000000001,118.1 662.4000000000001,118.69999999999999 Q680.2,121.3 698.0,118.69999999999999 Q704.5,118.1 702.5,112.1 L691.9000000000001,72.607 L691.9000000000001,50.2 Z" fill="#c9e2ee" stroke="#8db4c6" stroke-width="0.8"/>
<path d="M665.5635591336775,85.50800000000001 L657.9000000000001,112.1 Q655.9000000000001,118.1 662.4000000000001,118.69999999999999 Q680.2,121.3 698.0,118.69999999999999 Q704.5,118.1 702.5,112.1 L694.8364408663226,85.50800000000001 Z" fill="#f1dc8c"/>
<path d="M667.4635591336774,87.00800000000001 L661.9000000000001,111.6 Q661.4000000000001,115.6 666.4000000000001,115.89999999999999 Q680.2,118.39999999999999 694.0,115.89999999999999 Q699.0,115.6 698.5,111.6 L692.9364408663226,87.00800000000001 Z" fill="#e2bf66"/>
<path d="M664.4000000000001,114.5 Q680.2,111.89999999999999 696.0,114.5" fill="none" stroke="#f6ecc4" stroke-width="0.9" opacity="0.9"/>
<ellipse cx="680.2" cy="86.108" rx="14.436440866322577" ry="1.5" fill="#f7ecc0"/>
<rect x="670.7" y="53.2" width="3" height="25.406999999999996" fill="#e6f2f8" opacity="0.9"/>
<rect x="686.4000000000001" y="53.2" width="2.4" height="25.406999999999996" fill="#e6f2f8" opacity="0.9"/>
<ellipse cx="680.2" cy="50.2" rx="11.899999999999999" ry="2.1" fill="#a4cbdc" stroke="#4f7f93" stroke-width="0.9"/>
<line x1="674.6" y1="87.46352" x2="680.0" y2="87.46352" stroke="#a07d2c" stroke-width="0.8"/>
<line x1="674.6" y1="97.24112000000001" x2="680.0" y2="97.24112000000001" stroke="#a07d2c" stroke-width="0.8"/>
<line x1="674.6" y1="104.73728" x2="680.0" y2="104.73728" stroke="#a07d2c" stroke-width="0.8"/>
<path d="M670.6999999999999,158.0 L670.6999999999999,180.803 L660.1,221.1 Q658.1,227.1 664.6,227.7 Q682.4,230.29999999999998 700.1999999999999,227.7 Q706.6999999999999,227.1 704.6999999999999,221.1 L694.1,180.803 L694.1,158.0 Z" fill="#c9e2ee" stroke="#8db4c6" stroke-width="0.8"/>
<path d="M667.7711262319297,193.932 L660.1,221.1 Q658.1,227.1 664.6,227.7 Q682.4,230.29999999999998 700.1999999999999,227.7 Q706.6999999999999,227.1 704.6999999999999,221.1 L697.0288737680703,193.932 Z" fill="#f1dc8c"/>
<path d="M669.6711262319296,195.432 L664.1,220.6 Q663.6,224.6 668.6,224.9 Q682.4,227.4 696.1999999999999,224.9 Q701.1999999999999,224.6 700.6999999999999,220.6 L695.1288737680703,195.432 Z" fill="#e2bf66"/>
<path d="M666.6,223.5 Q682.4,220.9 698.1999999999999,223.5" fill="none" stroke="#f6ecc4" stroke-width="0.9" opacity="0.9"/>
<ellipse cx="682.4" cy="194.53199999999998" rx="14.428873768070316" ry="1.5" fill="#f7ecc0"/>
<rect x="672.9" y="161.0" width="3" height="25.802999999999997" fill="#e6f2f8" opacity="0.9"/>
<rect x="688.6" y="161.0" width="2.4" height="25.802999999999997" fill="#e6f2f8" opacity="0.9"/>
<ellipse cx="682.4" cy="158.0" rx="11.899999999999999" ry="2.1" fill="#a4cbdc" stroke="#4f7f93" stroke-width="0.9"/>
<line x1="676.8" y1="195.92208" x2="682.1999999999999" y2="195.92208" stroke="#a07d2c" stroke-width="0.8"/>
<line x1="676.8" y1="205.87248" x2="682.1999999999999" y2="205.87248" stroke="#a07d2c" stroke-width="0.8"/>
<line x1="676.8" y1="213.50112" x2="682.1999999999999" y2="213.50112" stroke="#a07d2c" stroke-width="0.8"/>
<path d="M597.3,156.79999999999998 L597.3,179.60299999999998 L586.7,219.9 Q584.7,225.9 591.2,226.5 Q609,229.1 626.8,226.5 Q633.3,225.9 631.3,219.9 L620.7,179.60299999999998 L620.7,156.79999999999998 Z" fill="#c9e2ee" stroke="#8db4c6" stroke-width="0.8"/>
<path d="M594.3711262319297,192.732 L586.7,219.9 Q584.7,225.9 591.2,226.5 Q609,229.1 626.8,226.5 Q633.3,225.9 631.3,219.9 L623.6288737680703,192.732 Z" fill="#f1dc8c"/>
<path d="M596.2711262319297,194.232 L590.7,219.4 Q590.2,223.4 595.2,223.70000000000002 Q609,226.20000000000002 622.8,223.70000000000002 Q627.8,223.4 627.3,219.4 L621.7288737680703,194.232 Z" fill="#e2bf66"/>
<path d="M593.2,222.3 Q609,219.70000000000002 624.8,222.3" fill="none" stroke="#f6ecc4" stroke-width="0.9" opacity="0.9"/>
<ellipse cx="609" cy="193.332" rx="14.428873768070321" ry="1.5" fill="#f7ecc0"/>
<rect x="599.5" y="159.79999999999998" width="3" height="25.802999999999997" fill="#e6f2f8" opacity="0.9"/>
<rect x="615.2" y="159.79999999999998" width="2.4" height="25.802999999999997" fill="#e6f2f8" opacity="0.9"/>
<ellipse cx="609" cy="156.79999999999998" rx="11.899999999999999" ry="2.1" fill="#a4cbdc" stroke="#4f7f93" stroke-width="0.9"/>
<line x1="603.4" y1="194.72208" x2="608.8" y2="194.72208" stroke="#a07d2c" stroke-width="0.8"/>
<line x1="603.4" y1="204.67248" x2="608.8" y2="204.67248" stroke="#a07d2c" stroke-width="0.8"/>
<line x1="603.4" y1="212.30112" x2="608.8" y2="212.30112" stroke="#a07d2c" stroke-width="0.8"/>
<path d="M524.5,156.39999999999998 L524.5,179.07099999999997 L513.9000000000001,219.1 Q511.9000000000001,225.1 518.4000000000001,225.7 Q536.2,228.29999999999998 554.0,225.7 Q560.5,225.1 558.5,219.1 L547.9000000000001,179.07099999999997 L547.9000000000001,156.39999999999998 Z" fill="#c9e2ee" stroke="#8db4c6" stroke-width="0.8"/>
<path d="M521.5686368178606,192.124 L513.9000000000001,219.1 Q511.9000000000001,225.1 518.4000000000001,225.7 Q536.2,228.29999999999998 554.0,225.7 Q560.5,225.1 558.5,219.1 L550.8313631821395,192.124 Z" fill="#f1dc8c"/>
<path d="M523.4686368178606,193.624 L517.9000000000001,218.6 Q517.4000000000001,222.6 522.4000000000001,222.9 Q536.2,225.4 550.0,222.9 Q555.0,222.6 554.5,218.6 L548.9313631821395,193.624 Z" fill="#e2bf66"/>
<path d="M520.4000000000001,221.5 Q536.2,218.9 552.0,221.5" fill="none" stroke="#f6ecc4" stroke-width="0.9" opacity="0.9"/>
<ellipse cx="536.2" cy="192.724" rx="14.431363182139467" ry="1.5" fill="#f7ecc0"/>
<rect x="526.7" y="159.39999999999998" width="3" height="25.670999999999992" fill="#e6f2f8" opacity="0.9"/>
<rect x="542.4000000000001" y="159.39999999999998" width="2.4" height="25.670999999999992" fill="#e6f2f8" opacity="0.9"/>
<ellipse cx="536.2" cy="156.39999999999998" rx="11.899999999999999" ry="2.1" fill="#a4cbdc" stroke="#4f7f93" stroke-width="0.9"/>
<line x1="530.6" y1="194.10255999999998" x2="536.0" y2="194.10255999999998" stroke="#a07d2c" stroke-width="0.8"/>
<line x1="530.6" y1="203.99536" x2="536.0" y2="203.99536" stroke="#a07d2c" stroke-width="0.8"/>
<line x1="530.6" y1="211.57984" x2="536.0" y2="211.57984" stroke="#a07d2c" stroke-width="0.8"/>
<path d="M451.1,156.39999999999998 L451.1,179.07099999999997 L440.5,219.1 Q438.5,225.1 445.0,225.7 Q462.8,228.29999999999998 480.6,225.7 Q487.1,225.1 485.1,219.1 L474.5,179.07099999999997 L474.5,156.39999999999998 Z" fill="#c9e2ee" stroke="#8db4c6" stroke-width="0.8"/>
<path d="M448.16863681786054,192.124 L440.5,219.1 Q438.5,225.1 445.0,225.7 Q462.8,228.29999999999998 480.6,225.7 Q487.1,225.1 485.1,219.1 L477.4313631821395,192.124 Z" fill="#f1dc8c"/>
<path d="M450.0686368178605,193.624 L444.5,218.6 Q444.0,222.6 449.0,222.9 Q462.8,225.4 476.6,222.9 Q481.6,222.6 481.1,218.6 L475.5313631821395,193.624 Z" fill="#e2bf66"/>
<path d="M447.0,221.5 Q462.8,218.9 478.6,221.5" fill="none" stroke="#f6ecc4" stroke-width="0.9" opacity="0.9"/>
<ellipse cx="462.8" cy="192.724" rx="14.431363182139467" ry="1.5" fill="#f7ecc0"/>
<rect x="453.3" y="159.39999999999998" width="3" height="25.670999999999992" fill="#e6f2f8" opacity="0.9"/>
<rect x="469.0" y="159.39999999999998" width="2.4" height="25.670999999999992" fill="#e6f2f8" opacity="0.9"/>
<ellipse cx="462.8" cy="156.39999999999998" rx="11.899999999999999" ry="2.1" fill="#a4cbdc" stroke="#4f7f93" stroke-width="0.9"/>
<line x1="457.2" y1="194.10255999999998" x2="462.6" y2="194.10255999999998" stroke="#a07d2c" stroke-width="0.8"/>
<line x1="457.2" y1="203.99536" x2="462.6" y2="203.99536" stroke="#a07d2c" stroke-width="0.8"/>
<line x1="457.2" y1="211.57984" x2="462.6" y2="211.57984" stroke="#a07d2c" stroke-width="0.8"/>
<text x="526.5" y="133.7" font-size="7.6" font-weight="bold" text-anchor="middle" fill="#111"  >Day 0</text>
<text x="464.7" y="240.5" font-size="7.6" font-weight="bold" text-anchor="middle" fill="#111"  >Day 7</text>
<text x="536.5" y="239.5" font-size="7.6" font-weight="bold" text-anchor="middle" fill="#111"  >Day 5</text>
<text x="607.0" y="242.4" font-size="7.6" font-weight="bold" text-anchor="middle" fill="#111"  >Day 3</text>
<text x="684.6" y="242.9" font-size="7.6" font-weight="bold" text-anchor="middle" fill="#111"  >Day 1</text>
<line x1="545.8" y1="76.4" x2="574.5" y2="76.4" stroke="#111" stroke-width="2.2"/>
<polygon points="580.0,76.4 573.5,79.2 573.5,73.6" fill="#111"/>
<text x="560.0" y="71.3" font-size="7.6" font-weight="bold" text-anchor="middle" fill="#111"  >8 h</text>
<text x="562.0" y="88.7" font-size="8.0" font-weight="bold" text-anchor="middle" fill="#111"  ><tspan font-family="Liberation Serif, serif" font-weight="bold" font-size="9.0" letter-spacing="0.2">~10</tspan><tspan font-family="Liberation Serif, serif" font-style="italic" font-weight="bold" font-size="5.8" dy="-3.2">8</tspan><tspan dy="3.2"> cells</tspan></text>
<line x1="623.0" y1="74.7" x2="652.3" y2="74.7" stroke="#111" stroke-width="2.2"/>
<polygon points="657.8,74.7 651.3,77.5 651.3,71.9" fill="#111"/>
<text x="638.4" y="70.7" font-size="7.6" font-weight="bold" text-anchor="middle" fill="#111"  >8 h</text>
<text x="639.7" y="88.7" font-size="8.0" font-weight="bold" text-anchor="middle" fill="#111"  ><tspan font-family="Liberation Serif, serif" font-weight="bold" font-size="9.0" letter-spacing="0.2">~10</tspan><tspan font-family="Liberation Serif, serif" font-style="italic" font-weight="bold" font-size="5.8" dy="-3.2">8</tspan><tspan dy="3.2"> cells</tspan></text>
<polyline points="697.3,77 771,77 771,188.7 712,188.7" fill="none" stroke="#111" stroke-width="2.1"/>
<polygon points="706.5,188.7 713.5,185.7 713.5,191.7" fill="#111"/>
<text x="729.8" y="71.3" font-size="7.6" font-weight="bold" text-anchor="middle" fill="#111"  >8 h</text>
<text x="733.0" y="89.6" font-size="8.0" font-weight="bold" text-anchor="middle" fill="#111"  ><tspan font-family="Liberation Serif, serif" font-weight="bold" font-size="9.0" letter-spacing="0.2">~10</tspan><tspan font-family="Liberation Serif, serif" font-style="italic" font-weight="bold" font-size="5.8" dy="-3.2">8</tspan><tspan dy="3.2"> cells</tspan></text>
<line x1="654.0" y1="180.7" x2="640.0" y2="181.4" stroke="#111" stroke-width="2.3"/>
<polygon points="635.0,181.7 640.8,178.7 641.1,184.1" fill="#111"/>
<circle cx="658.3" cy="183.5" r="0.6" fill="#555"/>
<circle cx="660.9" cy="183.5" r="0.6" fill="#555"/>
<circle cx="663.5" cy="183.5" r="0.6" fill="#555"/>
<line x1="580.0" y1="182.0" x2="565.8" y2="182.7" stroke="#111" stroke-width="2.3"/>
<polygon points="560.8,183.0 566.7,180.0 566.9,185.4" fill="#111"/>
<circle cx="584.8" cy="184.8" r="0.6" fill="#555"/>
<circle cx="587.4" cy="184.8" r="0.6" fill="#555"/>
<circle cx="590.0" cy="184.8" r="0.6" fill="#555"/>
<line x1="507.4" y1="184.4" x2="492.0" y2="185.2" stroke="#111" stroke-width="2.3"/>
<polygon points="487.0,185.4 492.9,182.4 493.1,187.8" fill="#111"/>
<circle cx="510.8" cy="187.2" r="0.6" fill="#555"/>
<circle cx="513.4" cy="187.2" r="0.6" fill="#555"/>
<circle cx="516.0" cy="187.2" r="0.6" fill="#555"/>
<line x1="570.5" y1="250.0" x2="570.5" y2="274.5" stroke="#111" stroke-width="2.1"/>
<polygon points="570.5,280.0 567.8,273.5 573.2,273.5" fill="#111"/>
<text x="581.7" y="270.0" font-size="11.2" font-weight="bold" text-anchor="start" fill="#111"  ><tspan font-family="Liberation Serif, serif" font-weight="bold" font-size="12.7" letter-spacing="0.2">~10</tspan><tspan font-family="Liberation Serif, serif" font-style="italic" font-weight="bold" font-size="8.1" dy="-4.5">8</tspan><tspan dy="4.5"> cells</tspan></text>
<line x1="478.3" y1="298.3" x2="703.3" y2="298.3" stroke="#1a1a1a" stroke-width="2.0"/>
<rect x="494.30" y="294.40" width="16.00" height="7.8" fill="#4c8b3b" stroke="#55595e" stroke-width="0.9"/>
<rect x="510.30" y="294.40" width="29.25" height="7.8" fill="#a9abb1" stroke="#55595e" stroke-width="0.9"/>
<rect x="539.55" y="294.40" width="29.25" height="7.8" fill="#ffffff" stroke="#55595e" stroke-width="0.9"/>
<circle cx="549.6" cy="298.6" r="0.9" fill="#2a2a2a"/>
<circle cx="553.6" cy="298.6" r="0.9" fill="#2a2a2a"/>
<circle cx="557.6" cy="298.6" r="0.9" fill="#2a2a2a"/>
<rect x="568.80" y="294.40" width="29.25" height="7.8" fill="#a9abb1" stroke="#55595e" stroke-width="0.9"/>
<rect x="598.05" y="294.40" width="29.25" height="7.8" fill="#ef8533" stroke="#55595e" stroke-width="0.9"/>
<rect x="627.30" y="294.40" width="29.25" height="7.8" fill="#a9abb1" stroke="#55595e" stroke-width="0.9"/>
<rect x="656.55" y="294.40" width="16.00" height="7.8" fill="#e3202a" stroke="#55595e" stroke-width="0.9"/>
<rect x="672.55" y="294.40" width="15.70" height="7.8" fill="#5b9bd5" stroke="#55595e" stroke-width="0.9"/>
<polygon points="611.70,291.70 613.26,296.45 617.73,296.68 614.23,299.83 615.42,304.72 611.70,301.92 607.98,304.72 609.17,299.83 605.67,296.68 610.14,296.45" fill="#a0263a" stroke="#6d2a30" stroke-width="0.5"/>
<line x1="478.3" y1="312.3" x2="703.3" y2="312.3" stroke="#1a1a1a" stroke-width="2.0"/>
<rect x="494.30" y="308.40" width="16.00" height="7.8" fill="#4c8b3b" stroke="#55595e" stroke-width="0.9"/>
<rect x="510.30" y="308.40" width="29.25" height="7.8" fill="#a9abb1" stroke="#55595e" stroke-width="0.9"/>
<rect x="539.55" y="308.40" width="29.25" height="7.8" fill="#ffffff" stroke="#55595e" stroke-width="0.9"/>
<circle cx="549.6" cy="312.6" r="0.9" fill="#2a2a2a"/>
<circle cx="553.6" cy="312.6" r="0.9" fill="#2a2a2a"/>
<circle cx="557.6" cy="312.6" r="0.9" fill="#2a2a2a"/>
<rect x="568.80" y="308.40" width="29.25" height="7.8" fill="#a9abb1" stroke="#55595e" stroke-width="0.9"/>
<rect x="598.05" y="308.40" width="29.25" height="7.8" fill="#a9abb1" stroke="#55595e" stroke-width="0.9"/>
<rect x="627.30" y="308.40" width="29.25" height="7.8" fill="#ef8533" stroke="#55595e" stroke-width="0.9"/>
<rect x="656.55" y="308.40" width="16.00" height="7.8" fill="#e3202a" stroke="#55595e" stroke-width="0.9"/>
<rect x="672.55" y="308.40" width="15.70" height="7.8" fill="#5b9bd5" stroke="#55595e" stroke-width="0.9"/>
<polygon points="641.70,305.70 643.26,310.45 647.73,310.68 644.23,313.83 645.42,318.72 641.70,315.92 637.98,318.72 639.17,313.83 635.67,310.68 640.14,310.45" fill="#a0263a" stroke="#6d2a30" stroke-width="0.5"/>
<line x1="478.3" y1="350.7" x2="703.3" y2="350.7" stroke="#1a1a1a" stroke-width="2.0"/>
<rect x="494.30" y="346.80" width="16.00" height="7.8" fill="#4c8b3b" stroke="#55595e" stroke-width="0.9"/>
<rect x="510.30" y="346.80" width="29.25" height="7.8" fill="#a9abb1" stroke="#55595e" stroke-width="0.9"/>
<rect x="539.55" y="346.80" width="29.25" height="7.8" fill="#ffffff" stroke="#55595e" stroke-width="0.9"/>
<circle cx="549.6" cy="351.0" r="0.9" fill="#2a2a2a"/>
<circle cx="553.6" cy="351.0" r="0.9" fill="#2a2a2a"/>
<circle cx="557.6" cy="351.0" r="0.9" fill="#2a2a2a"/>
<rect x="568.80" y="346.80" width="29.25" height="7.8" fill="#a9abb1" stroke="#55595e" stroke-width="0.9"/>
<rect x="598.05" y="346.80" width="29.25" height="7.8" fill="#a9abb1" stroke="#55595e" stroke-width="0.9"/>
<rect x="627.30" y="346.80" width="29.25" height="7.8" fill="#ef8533" stroke="#55595e" stroke-width="0.9"/>
<rect x="656.55" y="346.80" width="16.00" height="7.8" fill="#e3202a" stroke="#55595e" stroke-width="0.9"/>
<rect x="672.55" y="346.80" width="15.70" height="7.8" fill="#5b9bd5" stroke="#55595e" stroke-width="0.9"/>
<polygon points="641.70,344.10 643.26,348.85 647.73,349.08 644.23,352.23 645.42,357.12 641.70,354.32 637.98,357.12 639.17,352.23 635.67,349.08 640.14,348.85" fill="#a0263a" stroke="#6d2a30" stroke-width="0.5"/>
<line x1="487.7" y1="315.0" x2="487.7" y2="326.0" stroke="#333" stroke-width="1.1" stroke-dasharray="1.8,1.0"/>
<line x1="487.7" y1="326.0" x2="475.0" y2="326.0" stroke="#999" stroke-width="0.9"/>
<line x1="679.0" y1="315.0" x2="679.0" y2="329.3" stroke="#333" stroke-width="1.1" stroke-dasharray="1.8,1.0"/>
<line x1="679.0" y1="329.3" x2="690.7" y2="329.3" stroke="#999" stroke-width="0.9"/>
<line x1="487.7" y1="353.3" x2="487.7" y2="365.0" stroke="#333" stroke-width="1.1" stroke-dasharray="1.8,1.0"/>
<line x1="487.7" y1="365.0" x2="475.0" y2="365.0" stroke="#999" stroke-width="0.9"/>
<line x1="657.3" y1="353.3" x2="657.3" y2="366.0" stroke="#333" stroke-width="1.1" stroke-dasharray="1.8,1.0"/>
<line x1="657.3" y1="366.0" x2="647.3" y2="366.0" stroke="#999" stroke-width="0.9"/>
<line x1="673.3" y1="353.3" x2="673.3" y2="366.0" stroke="#333" stroke-width="1.1" stroke-dasharray="1.8,1.0"/>
<line x1="673.3" y1="366.0" x2="688.3" y2="366.0" stroke="#999" stroke-width="0.9"/>
<line x1="571.0" y1="321.5" x2="571.0" y2="336.5" stroke="#111" stroke-width="2.3"/>
<polygon points="571.0,342.0 568.2,335.5 573.8,335.5" fill="#111"/>
<text x="578.3" y="339.8" font-size="11.4" font-weight="bold" text-anchor="start" fill="#111"  >First round of PCR</text>
<line x1="665.7" y1="361.5" x2="665.7" y2="383.0" stroke="#111" stroke-width="2.3"/>
<polygon points="665.7,388.5 662.9,382.0 668.5,382.0" fill="#111"/>
<text x="543.3" y="380.8" font-size="11.4" font-weight="bold" text-anchor="start" fill="#111"  >Second round of PCR</text>
<text x="618.3" y="403.4" font-size="11.4" font-weight="bold" text-anchor="start" fill="#111"  >HiSeq sequencing</text>
<text transform="translate(3.6 460.9) scale(0.882 1)" font-size="50" fill="#000">B</text>
<rect x="82.4" y="474.4" width="269.4" height="243.80000000000007" fill="#fff" stroke="#b2b2b2" stroke-width="1"/>
<line x1="108.4" y1="474.4" x2="108.4" y2="718.2" stroke="#efefef" stroke-width="0.7"/>
<line x1="82.4" y1="694.7" x2="351.8" y2="694.7" stroke="#efefef" stroke-width="0.7"/>
<line x1="79.9" y1="694.7" x2="82.4" y2="694.7" stroke="#bbb" stroke-width="0.8"/>
<line x1="108.4" y1="718.2" x2="108.4" y2="720.7" stroke="#bbb" stroke-width="0.8"/>
<line x1="166.2" y1="474.4" x2="166.2" y2="718.2" stroke="#efefef" stroke-width="0.7"/>
<line x1="82.4" y1="641.5" x2="351.8" y2="641.5" stroke="#efefef" stroke-width="0.7"/>
<line x1="79.9" y1="641.5" x2="82.4" y2="641.5" stroke="#bbb" stroke-width="0.8"/>
<line x1="166.2" y1="718.2" x2="166.2" y2="720.7" stroke="#bbb" stroke-width="0.8"/>
<line x1="224.0" y1="474.4" x2="224.0" y2="718.2" stroke="#efefef" stroke-width="0.7"/>
<line x1="82.4" y1="588.3" x2="351.8" y2="588.3" stroke="#efefef" stroke-width="0.7"/>
<line x1="79.9" y1="588.3" x2="82.4" y2="588.3" stroke="#bbb" stroke-width="0.8"/>
<line x1="224.0" y1="718.2" x2="224.0" y2="720.7" stroke="#bbb" stroke-width="0.8"/>
<line x1="281.8" y1="474.4" x2="281.8" y2="718.2" stroke="#efefef" stroke-width="0.7"/>
<line x1="82.4" y1="535.1" x2="351.8" y2="535.1" stroke="#efefef" stroke-width="0.7"/>
<line x1="79.9" y1="535.1" x2="82.4" y2="535.1" stroke="#bbb" stroke-width="0.8"/>
<line x1="281.8" y1="718.2" x2="281.8" y2="720.7" stroke="#bbb" stroke-width="0.8"/>
<line x1="339.6" y1="474.4" x2="339.6" y2="718.2" stroke="#efefef" stroke-width="0.7"/>
<line x1="82.4" y1="481.9" x2="351.8" y2="481.9" stroke="#efefef" stroke-width="0.7"/>
<line x1="79.9" y1="481.9" x2="82.4" y2="481.9" stroke="#bbb" stroke-width="0.8"/>
<line x1="339.6" y1="718.2" x2="339.6" y2="720.7" stroke="#bbb" stroke-width="0.8"/>
<line x1="82.7" y1="717.9000000000001" x2="351.5" y2="474.7" stroke="#cf5f6c" stroke-width="1"/>
<text x="78.8" y="703.2" font-size="11.7" font-weight="bold" text-anchor="end" fill="#6e6e6e"  >−0.008</text>
<text x="107.8" y="734.6" font-size="11.7" font-weight="bold" text-anchor="middle" fill="#6e6e6e"  >−0.008</text>
<text x="78.8" y="650.0" font-size="11.7" font-weight="bold" text-anchor="end" fill="#6e6e6e"  >−0.006</text>
<text x="165.6" y="734.6" font-size="11.7" font-weight="bold" text-anchor="middle" fill="#6e6e6e"  >−0.006</text>
<text x="78.8" y="596.8" font-size="11.7" font-weight="bold" text-anchor="end" fill="#6e6e6e"  >−0.004</text>
<text x="223.4" y="734.6" font-size="11.7" font-weight="bold" text-anchor="middle" fill="#6e6e6e"  >−0.004</text>
<text x="78.8" y="543.6" font-size="11.7" font-weight="bold" text-anchor="end" fill="#6e6e6e"  >−0.002</text>
<text x="281.2" y="734.6" font-size="11.7" font-weight="bold" text-anchor="middle" fill="#6e6e6e"  >−0.002</text>
<text x="78.8" y="490.4" font-size="11.7" font-weight="bold" text-anchor="end" fill="#6e6e6e"  >0.000</text>
<text x="339.0" y="734.6" font-size="11.7" font-weight="bold" text-anchor="middle" fill="#6e6e6e"  >0.000</text>
<text x="217.4" y="757.6" font-size="13.06" font-weight="bold" text-anchor="middle" fill="#111"  >Fitness effect expected by additive model</text>
<text x="0.0" y="0.0" font-size="13.4" font-weight="bold" text-anchor="middle" fill="#111" transform="translate(12.6 596.6) rotate(-90)" >Observed fitness effect of</text>
<text x="0.0" y="0.0" font-size="13.3" font-weight="bold" text-anchor="middle" fill="#111" transform="translate(28.7 595.1) rotate(-90)" >double mutants</text>
<polygon points="106.5,485.8 99.0,499.0 114.0,499.0" fill="#b4b4b4"/>
<text x="121.2" y="496.2" font-size="9.4" font-weight="bold" text-anchor="start" fill="#111"  >Positive epistasis</text>
<polygon points="106.5,515.9 99.0,502.6 114.0,502.6" fill="#737373"/>
<text x="121.2" y="513.2" font-size="9.4" font-weight="bold" text-anchor="start" fill="#111"  >Negative epistasis</text>
<polygon points="265.5,488.5 257.6,502.3 273.4,502.3" fill="#b4b4b4"/>
<polygon points="292.5,488.5 284.6,502.3 300.4,502.3" fill="#b4b4b4"/>
<polygon points="273.6,500.7 265.7,514.5 281.5,514.5" fill="#b4b4b4"/>
<polygon points="186.0,582.1 178.1,595.9 193.9,595.9" fill="#b4b4b4"/>
<polygon points="321.4,544.2 313.2,529.6 329.6,529.6" fill="#737373"/>
<polygon points="287.9,563.4 279.7,548.8 296.1,548.8" fill="#737373"/>
<polygon points="275.5,596.5 267.3,581.9 283.7,581.9" fill="#737373"/>
<polygon points="261.7,617.2 253.5,602.6 269.9,602.6" fill="#737373"/>
<polygon points="306.7,614.0 298.5,599.4 314.9,599.4" fill="#737373"/>
<polygon points="316.8,611.7 308.6,597.1 325.0,597.1" fill="#737373"/>
<polygon points="310.8,631.4 302.6,616.8 319.0,616.8" fill="#737373"/>
<polygon points="282.4,673.6 274.2,659.0 290.6,659.0" fill="#737373"/>
<text x="240.1" y="486.1" font-size="8.35" font-weight="bold" text-anchor="start" fill="#111"  >C315T+A317C</text>
<text x="281.5" y="511.8" font-size="8.35" font-weight="bold" text-anchor="start" fill="#111"  >C315T+T340G</text>
<text x="234.2" y="525.1" font-size="8.35" font-weight="bold" text-anchor="start" fill="#111"  >C315T+A322G</text>
<text x="297.5" y="553.1" font-size="8.35" font-weight="bold" text-anchor="start" fill="#111"  >C315T+A338T</text>
<text x="221.3" y="557.2" font-size="8.35" font-weight="bold" text-anchor="start" fill="#111"  >C315T+A319T</text>
<text x="157.5" y="576.1" font-size="8.35" font-weight="bold" text-anchor="start" fill="#111"  >C315T+G347T</text>
<text x="250.2" y="576.1" font-size="8.35" font-weight="bold" text-anchor="start" fill="#111"  >C315T+C648T</text>
<text x="293.8" y="585.2" font-size="8.35" font-weight="bold" text-anchor="start" fill="#111"  >C315T+G347T</text>
<text x="281.0" y="596.8" font-size="8.35" font-weight="bold" text-anchor="start" fill="#111"  >C315T+A593G</text>
<text x="233.2" y="629.8" font-size="8.35" font-weight="bold" text-anchor="start" fill="#111"  >C315T+C329T</text>
<text x="287.9" y="642.7" font-size="8.35" font-weight="bold" text-anchor="start" fill="#111"  >C315T+T533C</text>
<text x="256.2" y="684.0" font-size="8.35" font-weight="bold" text-anchor="start" fill="#111"  >C315T+A344C</text>
<text transform="translate(346.5 460.6) scale(0.985 1)" font-size="48.6" fill="#000">C</text>
<line x1="409.8" y1="441.2" x2="742.3" y2="441.2" stroke="#ededed" stroke-width="0.7"/>
<line x1="409.8" y1="506.1" x2="742.3" y2="506.1" stroke="#ededed" stroke-width="0.7"/>
<line x1="409.8" y1="635.9" x2="742.3" y2="635.9" stroke="#ededed" stroke-width="0.7"/>
<line x1="409.8" y1="700.8" x2="742.3" y2="700.8" stroke="#ededed" stroke-width="0.7"/>
<line x1="430.0" y1="436.1" x2="430.0" y2="705.9" stroke="#ededed" stroke-width="0.7"/>
<line x1="462.6" y1="436.1" x2="462.6" y2="705.9" stroke="#ededed" stroke-width="0.7"/>
<line x1="495.2" y1="436.1" x2="495.2" y2="705.9" stroke="#ededed" stroke-width="0.7"/>
<line x1="527.8" y1="436.1" x2="527.8" y2="705.9" stroke="#ededed" stroke-width="0.7"/>
<line x1="560.4" y1="436.1" x2="560.4" y2="705.9" stroke="#ededed" stroke-width="0.7"/>
<line x1="593.0" y1="436.1" x2="593.0" y2="705.9" stroke="#ededed" stroke-width="0.7"/>
<line x1="625.6" y1="436.1" x2="625.6" y2="705.9" stroke="#ededed" stroke-width="0.7"/>
<line x1="658.2" y1="436.1" x2="658.2" y2="705.9" stroke="#ededed" stroke-width="0.7"/>
<line x1="690.8" y1="436.1" x2="690.8" y2="705.9" stroke="#ededed" stroke-width="0.7"/>
<line x1="723.4" y1="436.1" x2="723.4" y2="705.9" stroke="#ededed" stroke-width="0.7"/>
<text x="407.8" y="445.1" font-size="11.8" font-weight="bold" text-anchor="end" fill="#666"  >1.0</text>
<text x="407.8" y="509.9" font-size="11.8" font-weight="bold" text-anchor="end" fill="#666"  >0.5</text>
<text x="407.8" y="574.8" font-size="11.8" font-weight="bold" text-anchor="end" fill="#666"  >0.0</text>
<text x="407.8" y="639.7" font-size="11.8" font-weight="bold" text-anchor="end" fill="#666"  >−0.5</text>
<text x="407.8" y="704.6" font-size="11.8" font-weight="bold" text-anchor="end" fill="#666"  >−1.0</text>
<text x="745.8" y="466.9" font-size="11.8" font-weight="bold" text-anchor="start" fill="#666"  >0.2</text>
<text x="745.8" y="520.9" font-size="11.8" font-weight="bold" text-anchor="start" fill="#666"  >0.1</text>
<text x="745.8" y="574.8" font-size="11.8" font-weight="bold" text-anchor="start" fill="#666"  >0.0</text>
<text x="745.8" y="628.8" font-size="11.8" font-weight="bold" text-anchor="start" fill="#666"  >−0.1</text>
<text x="745.8" y="682.7" font-size="11.8" font-weight="bold" text-anchor="start" fill="#666"  >−0.2</text>
<text x="0.0" y="0.0" font-size="14.4" font-weight="bold" text-anchor="middle" fill="#111" transform="translate(376.4 569.6) rotate(-90)" >Averaged epistasis of mutant</text>
<text x="0.0" y="0.0" font-size="14.35" font-weight="bold" text-anchor="middle" fill="#111" transform="translate(776.6 570.2) rotate(90)" >Averaged epistasis of error</text>
<line x1="430.0" y1="552.3" x2="430.0" y2="579.7" stroke="#3a3a3a" stroke-width="1"/>
<line x1="430.0" y1="599.5" x2="430.0" y2="629.3" stroke="#3a3a3a" stroke-width="1"/>
<rect x="417.5" y="579.7" width="25.0" height="19.8" fill="#fff" stroke="#3a3a3a" stroke-width="1.05"/>
<line x1="417.5" y1="590.1" x2="442.5" y2="590.1" stroke="#1a1a1a" stroke-width="1.9"/>
<circle cx="430.0" cy="467.3" r="1.0" fill="#0a0a0a" opacity="0.45"/>
<circle cx="430.0" cy="483.3" r="1.25" fill="#0a0a0a" opacity="1.0"/>
<ellipse cx="430.0" cy="527.7" rx="1.4" ry="2.0" fill="#0a0a0a"/>
<circle cx="430.0" cy="541.0" r="1.05" fill="#0a0a0a" opacity="0.72"/>
<circle cx="430.0" cy="663.0" r="1.0" fill="#0a0a0a" opacity="0.45"/>
<ellipse cx="430.0" cy="698.5" rx="1.4" ry="2.0" fill="#0a0a0a"/>
<line x1="430.0" y1="545.8" x2="430.0" y2="548.8" stroke="#0a0a0a" stroke-width="2.0" stroke-linecap="round" opacity="0.55"/>
<line x1="430.0" y1="630.4" x2="430.0" y2="647.4" stroke="#0a0a0a" stroke-width="2.3" stroke-linecap="round" opacity="1.0"/>
<line x1="430.0" y1="654.4" x2="430.0" y2="659.1" stroke="#0a0a0a" stroke-width="2.3" stroke-linecap="round" opacity="1.0"/>
<line x1="462.6" y1="501.6" x2="462.6" y2="581.6" stroke="#3a3a3a" stroke-width="1"/>
<line x1="462.6" y1="635.6" x2="462.6" y2="700.5" stroke="#3a3a3a" stroke-width="1"/>
<rect x="450.1" y="581.6" width="25.0" height="54.0" fill="#fff" stroke="#3a3a3a" stroke-width="1.05"/>
<line x1="450.1" y1="613.2" x2="475.1" y2="613.2" stroke="#1a1a1a" stroke-width="1.9"/>
<ellipse cx="462.6" cy="441.8" rx="1.4" ry="2.0" fill="#0a0a0a"/>
<circle cx="462.6" cy="455.1" r="1.0" fill="#0a0a0a" opacity="0.45"/>
<circle cx="462.6" cy="462.4" r="1.25" fill="#0a0a0a" opacity="1.0"/>
<circle cx="462.6" cy="494.3" r="1.05" fill="#0a0a0a" opacity="0.72"/>
<line x1="462.6" y1="468.8" x2="462.6" y2="471.6" stroke="#0a0a0a" stroke-width="2.0" stroke-linecap="round" opacity="0.6"/>
<line x1="462.6" y1="481.6" x2="462.6" y2="485.0" stroke="#0a0a0a" stroke-width="2.7" stroke-linecap="round" opacity="1.0"/>
<line x1="462.6" y1="497.6" x2="462.6" y2="500.6" stroke="#0a0a0a" stroke-width="2.7" stroke-linecap="round" opacity="1.0"/>
<line x1="495.2" y1="538.5" x2="495.2" y2="571.5" stroke="#3a3a3a" stroke-width="1"/>
<line x1="495.2" y1="593.4" x2="495.2" y2="626.4" stroke="#3a3a3a" stroke-width="1"/>
<rect x="482.7" y="571.5" width="25.0" height="21.9" fill="#fff" stroke="#3a3a3a" stroke-width="1.05"/>
<line x1="482.7" y1="578.1" x2="507.7" y2="578.1" stroke="#1a1a1a" stroke-width="1.9"/>
<circle cx="495.2" cy="477.0" r="1.05" fill="#0a0a0a" opacity="0.72"/>
<circle cx="495.2" cy="483.0" r="1.05" fill="#0a0a0a" opacity="0.72"/>
<ellipse cx="495.2" cy="528.3" rx="1.4" ry="2.0" fill="#0a0a0a"/>
<circle cx="495.2" cy="679.7" r="1.0" fill="#0a0a0a" opacity="0.45"/>
<ellipse cx="495.2" cy="698.0" rx="1.4" ry="2.0" fill="#0a0a0a"/>
<line x1="495.2" y1="627.8" x2="495.2" y2="661.6" stroke="#0a0a0a" stroke-width="2.7" stroke-linecap="round" opacity="1.0"/>
<line x1="495.2" y1="673.7" x2="495.2" y2="676.9" stroke="#0a0a0a" stroke-width="2.2" stroke-linecap="round" opacity="0.85"/>
<line x1="527.8" y1="526.8" x2="527.8" y2="577.7" stroke="#3a3a3a" stroke-width="1"/>
<line x1="527.8" y1="611.7" x2="527.8" y2="658.7" stroke="#3a3a3a" stroke-width="1"/>
<rect x="515.3" y="577.7" width="25.0" height="34.0" fill="#fff" stroke="#3a3a3a" stroke-width="1.05"/>
<line x1="515.3" y1="591.5" x2="540.3" y2="591.5" stroke="#1a1a1a" stroke-width="1.9"/>
<circle cx="527.8" cy="504.1" r="1.05" fill="#0a0a0a" opacity="0.72"/>
<circle cx="527.8" cy="506.9" r="1.05" fill="#0a0a0a" opacity="0.72"/>
<circle cx="527.8" cy="524.2" r="1.0" fill="#0a0a0a" opacity="0.45"/>
<ellipse cx="527.8" cy="697.4" rx="1.4" ry="2.0" fill="#0a0a0a"/>
<line x1="527.8" y1="663.7" x2="527.8" y2="669.9" stroke="#0a0a0a" stroke-width="2.2" stroke-linecap="round" opacity="0.6"/>
<line x1="527.8" y1="673.8" x2="527.8" y2="677.0" stroke="#0a0a0a" stroke-width="2.4" stroke-linecap="round" opacity="0.9"/>
<line x1="547.9" y1="570.9" x2="572.9" y2="570.9" stroke="#111" stroke-width="2.4"/>
<line x1="560.4" y1="568.1" x2="560.4" y2="580.9" stroke="#0a0a0a" stroke-width="2.9" stroke-linecap="round" opacity="1.0"/>
<line x1="560.4" y1="582.0" x2="560.4" y2="592.4" stroke="#0a0a0a" stroke-width="2.0" stroke-linecap="round" opacity="0.85"/>
<circle cx="560.4" cy="596.6" r="1.05" fill="#0a0a0a" opacity="0.72"/>
<circle cx="560.4" cy="602.7" r="1.0" fill="#0a0a0a" opacity="0.45"/>
<circle cx="560.4" cy="614.2" r="1.25" fill="#0a0a0a" opacity="1.0"/>
<line x1="593.0" y1="564.8" x2="593.0" y2="570.8" stroke="#3a3a3a" stroke-width="1"/>
<line x1="593.0" y1="575.7" x2="593.0" y2="581.9" stroke="#3a3a3a" stroke-width="1"/>
<rect x="580.5" y="570.8" width="25.0" height="4.9" fill="#fff" stroke="#3a3a3a" stroke-width="1.05"/>
<line x1="580.5" y1="571.7" x2="605.5" y2="571.7" stroke="#1a1a1a" stroke-width="1.9"/>
<circle cx="593.0" cy="482.0" r="1.0" fill="#0a0a0a" opacity="0.45"/>
<circle cx="593.0" cy="537.8" r="1.0" fill="#0a0a0a" opacity="0.45"/>
<circle cx="593.0" cy="548.9" r="1.25" fill="#0a0a0a" opacity="1.0"/>
<circle cx="593.0" cy="554.9" r="1.05" fill="#0a0a0a" opacity="0.72"/>
<circle cx="593.0" cy="559.8" r="1.05" fill="#0a0a0a" opacity="0.72"/>
<circle cx="593.0" cy="563.5" r="1.05" fill="#0a0a0a" opacity="0.72"/>
<circle cx="593.0" cy="606.9" r="1.0" fill="#0a0a0a" opacity="0.45"/>
<circle cx="593.0" cy="635.8" r="1.25" fill="#0a0a0a" opacity="1.0"/>
<circle cx="593.0" cy="657.1" r="1.25" fill="#0a0a0a" opacity="1.0"/>
<circle cx="593.0" cy="700.0" r="1.0" fill="#0a0a0a" opacity="0.45"/>
<line x1="593.0" y1="524.6" x2="593.0" y2="527.8" stroke="#0a0a0a" stroke-width="2.5" stroke-linecap="round" opacity="1.0"/>
<line x1="593.0" y1="553.9" x2="593.0" y2="558.4" stroke="#0a0a0a" stroke-width="2.3" stroke-linecap="round" opacity="0.9"/>
<line x1="593.0" y1="583.2" x2="593.0" y2="601.9" stroke="#0a0a0a" stroke-width="2.7" stroke-linecap="round" opacity="1.0"/>
<line x1="593.0" y1="612.6" x2="593.0" y2="616.0" stroke="#0a0a0a" stroke-width="2.6" stroke-linecap="round" opacity="1.0"/>
<line x1="625.6" y1="553.8" x2="625.6" y2="599.5" stroke="#3a3a3a" stroke-width="1"/>
<line x1="625.6" y1="630.1" x2="625.6" y2="672.5" stroke="#3a3a3a" stroke-width="1"/>
<rect x="613.1" y="599.5" width="25.0" height="30.6" fill="#fff" stroke="#3a3a3a" stroke-width="1.05"/>
<line x1="613.1" y1="613.7" x2="638.1" y2="613.7" stroke="#1a1a1a" stroke-width="1.9"/>
<circle cx="625.6" cy="482.7" r="1.25" fill="#0a0a0a" opacity="1.0"/>
<circle cx="625.6" cy="495.0" r="1.05" fill="#0a0a0a" opacity="0.72"/>
<circle cx="625.6" cy="498.6" r="1.0" fill="#0a0a0a" opacity="0.45"/>
<circle cx="625.6" cy="504.0" r="1.0" fill="#0a0a0a" opacity="0.45"/>
<circle cx="625.6" cy="510.9" r="1.05" fill="#0a0a0a" opacity="0.72"/>
<circle cx="625.6" cy="531.7" r="1.05" fill="#0a0a0a" opacity="0.72"/>
<circle cx="625.6" cy="683.6" r="1.05" fill="#0a0a0a" opacity="0.72"/>
<circle cx="625.6" cy="687.7" r="1.0" fill="#0a0a0a" opacity="0.45"/>
<line x1="625.6" y1="514.8" x2="625.6" y2="516.9" stroke="#0a0a0a" stroke-width="2.3" stroke-linecap="round" opacity="1.0"/>
<line x1="625.6" y1="524.7" x2="625.6" y2="528.9" stroke="#0a0a0a" stroke-width="2.6" stroke-linecap="round" opacity="1.0"/>
<line x1="625.6" y1="535.6" x2="625.6" y2="552.5" stroke="#0a0a0a" stroke-width="2.5" stroke-linecap="round" opacity="1.0"/>
<line x1="625.6" y1="675.3" x2="625.6" y2="679.1" stroke="#0a0a0a" stroke-width="2.6" stroke-linecap="round" opacity="1.0"/>
<line x1="625.6" y1="696.8" x2="625.6" y2="700.3" stroke="#0a0a0a" stroke-width="2.6" stroke-linecap="round" opacity="1.0"/>
<line x1="658.2" y1="556.9" x2="658.2" y2="571.3" stroke="#3a3a3a" stroke-width="1"/>
<line x1="658.2" y1="583.8" x2="658.2" y2="599.0" stroke="#3a3a3a" stroke-width="1"/>
<rect x="645.7" y="571.3" width="25.0" height="12.5" fill="#fff" stroke="#3a3a3a" stroke-width="1.05"/>
<line x1="645.7" y1="575.0" x2="670.7" y2="575.0" stroke="#1a1a1a" stroke-width="1.9"/>
<circle cx="658.2" cy="482.7" r="1.0" fill="#0a0a0a" opacity="0.45"/>
<circle cx="658.2" cy="540.8" r="1.0" fill="#0a0a0a" opacity="0.45"/>
<circle cx="658.2" cy="545.2" r="1.05" fill="#0a0a0a" opacity="0.72"/>
<circle cx="658.2" cy="548.1" r="1.25" fill="#0a0a0a" opacity="1.0"/>
<circle cx="658.2" cy="635.3" r="1.25" fill="#0a0a0a" opacity="1.0"/>
<circle cx="658.2" cy="643.9" r="1.0" fill="#0a0a0a" opacity="0.45"/>
<circle cx="658.2" cy="657.1" r="1.05" fill="#0a0a0a" opacity="0.72"/>
<circle cx="658.2" cy="698.3" r="1.0" fill="#0a0a0a" opacity="0.45"/>
<line x1="658.2" y1="526.5" x2="658.2" y2="529.8" stroke="#0a0a0a" stroke-width="2.4" stroke-linecap="round" opacity="1.0"/>
<line x1="658.2" y1="602.1" x2="658.2" y2="615.7" stroke="#0a0a0a" stroke-width="2.6" stroke-linecap="round" opacity="1.0"/>
<line x1="690.8" y1="508.4" x2="690.8" y2="571.0" stroke="#3a3a3a" stroke-width="1"/>
<line x1="690.8" y1="613.2" x2="690.8" y2="673.8" stroke="#3a3a3a" stroke-width="1"/>
<rect x="678.3" y="571.0" width="25.0" height="42.2" fill="#fff" stroke="#3a3a3a" stroke-width="1.05"/>
<line x1="678.3" y1="591.7" x2="703.3" y2="591.7" stroke="#1a1a1a" stroke-width="1.9"/>
<circle cx="690.8" cy="441.0" r="1.05" fill="#0a0a0a" opacity="0.72"/>
<circle cx="690.8" cy="451.6" r="1.0" fill="#0a0a0a" opacity="0.45"/>
<circle cx="690.8" cy="462.6" r="1.0" fill="#0a0a0a" opacity="0.45"/>
<circle cx="690.8" cy="469.2" r="1.0" fill="#0a0a0a" opacity="0.45"/>
<circle cx="690.8" cy="473.4" r="1.0" fill="#0a0a0a" opacity="0.45"/>
<circle cx="690.8" cy="483.4" r="1.25" fill="#0a0a0a" opacity="1.0"/>
<circle cx="690.8" cy="492.5" r="1.05" fill="#0a0a0a" opacity="0.72"/>
<line x1="690.8" y1="496.2" x2="690.8" y2="498.6" stroke="#0a0a0a" stroke-width="2.1" stroke-linecap="round" opacity="0.8"/>
<line x1="690.8" y1="502.7" x2="690.8" y2="507.6" stroke="#0a0a0a" stroke-width="2.7" stroke-linecap="round" opacity="1.0"/>
<line x1="690.8" y1="675.4" x2="690.8" y2="700.5" stroke="#0a0a0a" stroke-width="2.3" stroke-linecap="round" opacity="1.0"/>
<line x1="723.4" y1="521.2" x2="723.4" y2="577.0" stroke="#3a3a3a" stroke-width="1"/>
<line x1="723.4" y1="615.4" x2="723.4" y2="671.3" stroke="#3a3a3a" stroke-width="1"/>
<rect x="710.9" y="577.0" width="25.0" height="38.4" fill="#fff" stroke="#3a3a3a" stroke-width="1.05"/>
<line x1="710.9" y1="593.6" x2="735.9" y2="593.6" stroke="#1a1a1a" stroke-width="1.9"/>
<circle cx="723.4" cy="441.0" r="1.05" fill="#0a0a0a" opacity="0.72"/>
<circle cx="723.4" cy="501.0" r="1.05" fill="#0a0a0a" opacity="0.72"/>
<line x1="723.4" y1="482.9" x2="723.4" y2="485.8" stroke="#0a0a0a" stroke-width="2.5" stroke-linecap="round" opacity="1.0"/>
<line x1="723.4" y1="510.9" x2="723.4" y2="516.2" stroke="#0a0a0a" stroke-width="2.2" stroke-linecap="round" opacity="0.75"/>
<line x1="723.4" y1="672.8" x2="723.4" y2="699.9" stroke="#0a0a0a" stroke-width="2.0" stroke-linecap="round" opacity="1.0"/>
<line x1="409.8" y1="570.9" x2="741.5" y2="570.9" stroke="#cf4a5a" stroke-width="1.4" stroke-dasharray="4.6,3.5"/>
<text x="389.0" y="724.4" font-size="8.2" font-weight="bold" text-anchor="middle" fill="#111"  >Gene</text>
<text x="389.0" y="737.7" font-size="8.2" font-weight="bold" text-anchor="middle" fill="#111"  >Medium</text>
<text x="389.0" y="751.9" font-size="8.2" font-weight="bold" text-anchor="middle" fill="#111"  >Promoter</text>
<text x="429.8" y="724.2" font-size="8.2" font-weight="bold" text-anchor="middle" fill="#333"  font-style="italic">GFP</text>
<text x="463.0" y="724.2" font-size="8.2" font-weight="bold" text-anchor="middle" fill="#333"  font-style="italic">GFP</text>
<text x="494.0" y="725.3" font-size="8.2" font-weight="bold" text-anchor="middle" fill="#333"  font-style="italic">URA3</text>
<text x="526.3" y="725.3" font-size="8.2" font-weight="bold" text-anchor="middle" fill="#333"  font-style="italic">URA3</text>
<text x="560.8" y="724.9" font-size="8.2" font-weight="bold" text-anchor="middle" fill="#333"  font-style="italic">GFP</text>
<text x="592.9" y="724.6" font-size="8.2" font-weight="bold" text-anchor="middle" fill="#333"  font-style="italic">GFP</text>
<text x="623.4" y="725.4" font-size="8.2" font-weight="bold" text-anchor="middle" fill="#333"  font-style="italic">URA3</text>
<text x="655.7" y="725.4" font-size="8.2" font-weight="bold" text-anchor="middle" fill="#333"  font-style="italic">URA3</text>
<text x="689.1" y="725.6" font-size="8.2" font-weight="bold" text-anchor="middle" fill="#333"  font-style="italic">URA3</text>
<text x="722.3" y="725.4" font-size="8.2" font-weight="bold" text-anchor="middle" fill="#333"  font-style="italic">URA3</text>
<text x="431.5" y="737.1" font-size="8.2" font-weight="bold" text-anchor="middle" fill="#111"  >SC</text>
<text x="463.8" y="738.1" font-size="8.2" font-weight="bold" text-anchor="middle" fill="#111"  >SC</text>
<text x="495.3" y="738.8" font-size="8.2" font-weight="bold" text-anchor="middle" fill="#111"  >SC</text>
<text x="527.7" y="737.6" font-size="8.2" font-weight="bold" text-anchor="middle" fill="#111"  >SC</text>
<text x="561.9" y="738.1" font-size="8.2" font-weight="bold" text-anchor="middle" fill="#111"  >YPD</text>
<text x="593.7" y="738.1" font-size="8.2" font-weight="bold" text-anchor="middle" fill="#111"  >YPD</text>
<text x="623.9" y="738.4" font-size="8.2" font-weight="bold" text-anchor="middle" fill="#111"  >YPD</text>
<text x="655.7" y="739.3" font-size="8.2" font-weight="bold" text-anchor="middle" fill="#111"  >YPD</text>
<text x="687.3" y="738.1" font-size="8.2" font-weight="bold" text-anchor="middle" fill="#111"  >SC-URA</text>
<text x="725.0" y="738.4" font-size="8.2" font-weight="bold" text-anchor="middle" fill="#111"  >SC-URA</text>
<text x="431.5" y="751.1" font-size="8.2" font-weight="bold" text-anchor="middle" fill="#111"  >TDH3</text>
<text x="463.8" y="752.4" font-size="8.2" font-weight="bold" text-anchor="middle" fill="#111"  >AGP1</text>
<text x="495.3" y="751.8" font-size="8.2" font-weight="bold" text-anchor="middle" fill="#111"  >TDH3</text>
<text x="528.5" y="752.4" font-size="8.2" font-weight="bold" text-anchor="middle" fill="#111"  >AGP1</text>
<text x="561.9" y="751.1" font-size="8.2" font-weight="bold" text-anchor="middle" fill="#111"  >TDH3</text>
<text x="594.8" y="752.4" font-size="8.2" font-weight="bold" text-anchor="middle" fill="#111"  >AGP1</text>
<text x="623.4" y="751.5" font-size="8.2" font-weight="bold" text-anchor="middle" fill="#111"  >TDH3</text>
<text x="656.3" y="752.7" font-size="8.2" font-weight="bold" text-anchor="middle" fill="#111"  >AGP1</text>
<text x="689.9" y="751.5" font-size="8.2" font-weight="bold" text-anchor="middle" fill="#111"  >TDH3</text>
<text x="722.3" y="752.7" font-size="8.2" font-weight="bold" text-anchor="middle" fill="#111"  >AGP1</text>
<line x1="416.4" y1="757" x2="480" y2="757" stroke="#222" stroke-width="1.4"/>
<line x1="484.6" y1="757" x2="741.7" y2="757" stroke="#222" stroke-width="1.4"/>
<text x="446.3" y="770.0" font-size="8.2" font-weight="bold" text-anchor="middle" fill="#111"  >This study</text>
<text x="606.3" y="770.0" font-size="8.2" font-weight="bold" text-anchor="middle" fill="#111"  >Previous work</text>
</svg>
</body></html>
